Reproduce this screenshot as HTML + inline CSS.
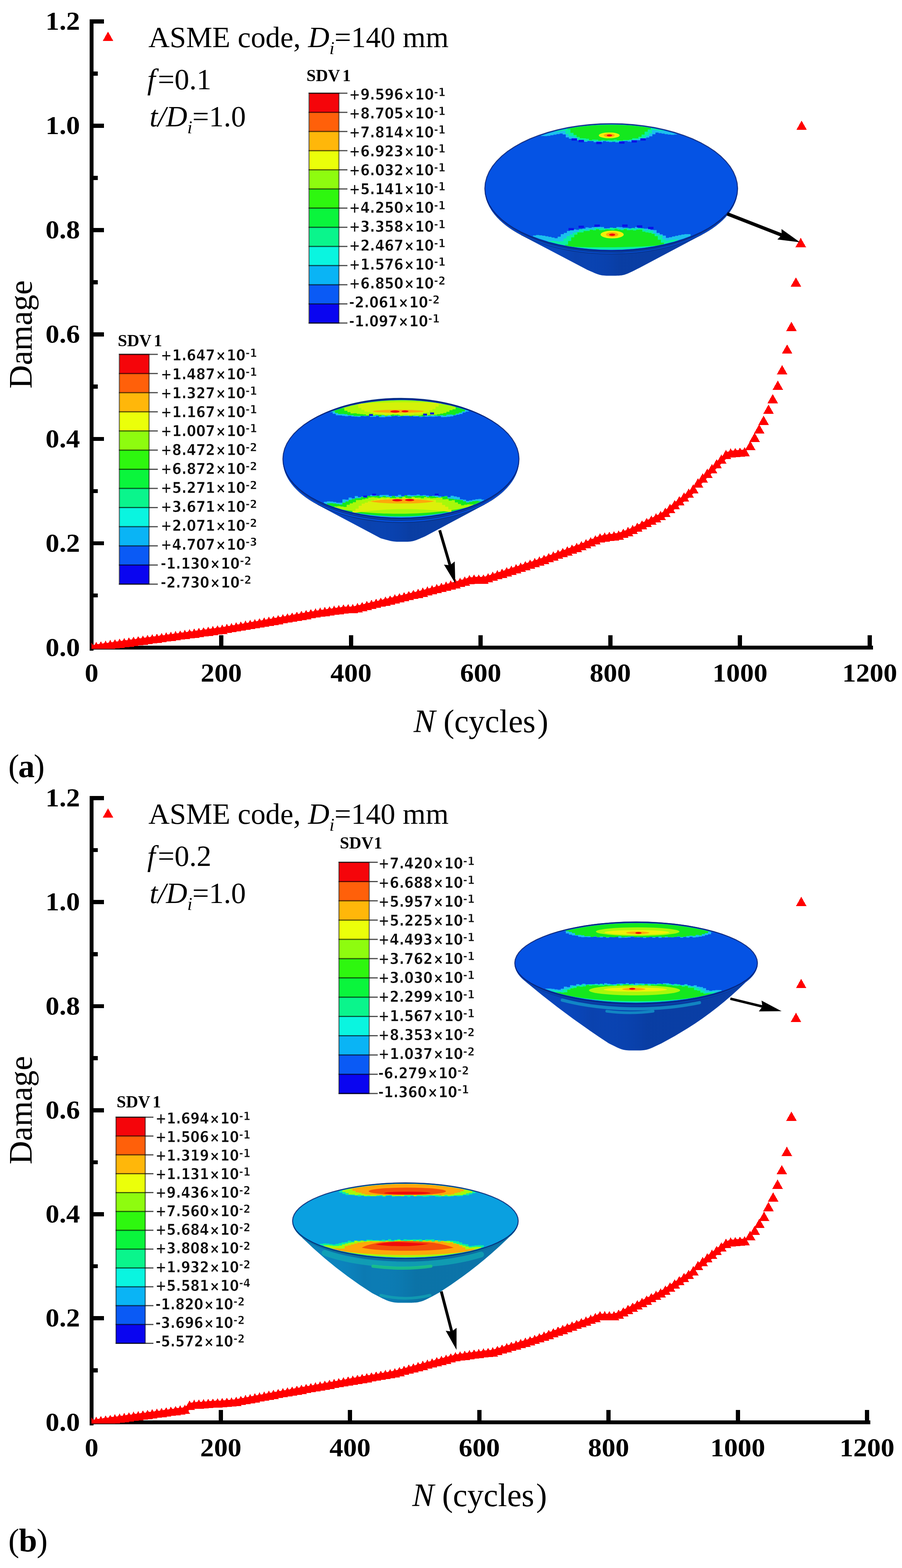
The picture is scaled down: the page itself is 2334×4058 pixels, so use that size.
<!DOCTYPE html>
<html lang="en"><head><meta charset="utf-8"><title>Damage versus N (cycles)</title>
<style>html,body{margin:0;padding:0;background:#fff}body{width:2334px;height:4058px;overflow:hidden}svg{display:block}text{white-space:pre}</style>
</head><body>
<svg width="2334" height="4058" viewBox="0 0 2334 4058" role="img" aria-label="Damage versus number of cycles, panels a and b">
<rect width="2334" height="4058" fill="#fff"/>
<!-- chart a -->
<g fill="#000" shape-rendering="crispEdges"><rect x="231.7" y="50.0" width="10.6" height="1634.3"/><rect x="231.7" y="1670.7" width="2027.0" height="10.6"/><rect x="237.0" y="1535.6" width="16" height="10.6"/><rect x="237.0" y="1400.6" width="32" height="10.6"/><rect x="237.0" y="1265.5" width="16" height="10.6"/><rect x="237.0" y="1130.5" width="32" height="10.6"/><rect x="237.0" y="995.4" width="16" height="10.6"/><rect x="237.0" y="860.4" width="32" height="10.6"/><rect x="237.0" y="725.3" width="16" height="10.6"/><rect x="237.0" y="590.2" width="32" height="10.6"/><rect x="237.0" y="455.2" width="16" height="10.6"/><rect x="237.0" y="320.1" width="32" height="10.6"/><rect x="237.0" y="185.1" width="16" height="10.6"/><rect x="237.0" y="50.0" width="32" height="10.6"/><rect x="567.1" y="1644.0" width="11" height="32"/><rect x="902.7" y="1644.0" width="11" height="32"/><rect x="1238.2" y="1644.0" width="11" height="32"/><rect x="1573.8" y="1644.0" width="11" height="32"/><rect x="1909.4" y="1644.0" width="11" height="32"/><rect x="2245.0" y="1644.0" width="11" height="32"/></g>
<g font-family='"Liberation Serif", "DejaVu Serif", serif' font-weight="bold" font-size="66.7px" fill="#000"><text x="207" y="1697.7" text-anchor="end" textLength="89.2" lengthAdjust="spacingAndGlyphs">0.0</text><text x="207" y="1427.6" text-anchor="end" textLength="89.2" lengthAdjust="spacingAndGlyphs">0.2</text><text x="207" y="1157.5" text-anchor="end" textLength="89.2" lengthAdjust="spacingAndGlyphs">0.4</text><text x="207" y="887.4" text-anchor="end" textLength="89.2" lengthAdjust="spacingAndGlyphs">0.6</text><text x="207" y="617.2" text-anchor="end" textLength="89.2" lengthAdjust="spacingAndGlyphs">0.8</text><text x="207" y="347.1" text-anchor="end" textLength="89.2" lengthAdjust="spacingAndGlyphs">1.0</text><text x="207" y="77.0" text-anchor="end" textLength="89.2" lengthAdjust="spacingAndGlyphs">1.2</text><text x="237.0" y="1764.0" text-anchor="middle" textLength="35.5" lengthAdjust="spacingAndGlyphs">0</text><text x="572.6" y="1764.0" text-anchor="middle" textLength="106.6" lengthAdjust="spacingAndGlyphs">200</text><text x="908.2" y="1764.0" text-anchor="middle" textLength="106.6" lengthAdjust="spacingAndGlyphs">400</text><text x="1243.8" y="1764.0" text-anchor="middle" textLength="106.6" lengthAdjust="spacingAndGlyphs">600</text><text x="1579.3" y="1764.0" text-anchor="middle" textLength="106.6" lengthAdjust="spacingAndGlyphs">800</text><text x="1914.9" y="1764.0" text-anchor="middle" textLength="142.1" lengthAdjust="spacingAndGlyphs">1000</text><text x="2250.5" y="1764.0" text-anchor="middle" textLength="142.1" lengthAdjust="spacingAndGlyphs">1200</text></g>
<text transform="translate(82.4 865.6) rotate(-90)" text-anchor="middle" font-family='"Liberation Serif", "DejaVu Serif", serif' font-size="84.2px">Damage</text>
<text x="1244.5" y="1895" text-anchor="middle" font-family='"Liberation Serif", "DejaVu Serif", serif' font-size="84.2px"><tspan font-style="italic">N</tspan> (cycles<tspan dx="5">)</tspan></text>
<g font-family='"Liberation Serif", "DejaVu Serif", serif' font-size="76.3px" fill="#000">
<text x="384" y="122">ASME code, <tspan font-style="italic">D</tspan><tspan font-style="italic" font-size="47.3px" dy="18.3">i</tspan><tspan dy="-18.3">=140 mm</tspan></text>
<text x="381" y="231" font-style="italic">f</text><text x="408.5" y="231">=0.1</text>
<text x="387" y="327"><tspan font-style="italic">t/D</tspan><tspan font-style="italic" font-size="47.3px" dy="18.3">i</tspan><tspan dy="-18.3">=1.0</tspan></text>
</g>
<path d="M265.9 105.9L279.5 81.9L293.1 105.9Z" fill="#f00" shape-rendering="crispEdges"/>
<!-- chart b -->
<g fill="#000" shape-rendering="crispEdges"><rect x="231.7" y="2060.1" width="10.6" height="1629.2"/><rect x="231.7" y="3675.7" width="2019.8" height="10.6"/><rect x="237.0" y="3541.1" width="16" height="10.6"/><rect x="237.0" y="3406.4" width="32" height="10.6"/><rect x="237.0" y="3271.8" width="16" height="10.6"/><rect x="237.0" y="3137.2" width="32" height="10.6"/><rect x="237.0" y="3002.5" width="16" height="10.6"/><rect x="237.0" y="2867.9" width="32" height="10.6"/><rect x="237.0" y="2733.3" width="16" height="10.6"/><rect x="237.0" y="2598.6" width="32" height="10.6"/><rect x="237.0" y="2464.0" width="16" height="10.6"/><rect x="237.0" y="2329.4" width="32" height="10.6"/><rect x="237.0" y="2194.7" width="16" height="10.6"/><rect x="237.0" y="2060.1" width="32" height="10.6"/><rect x="565.9" y="3649.0" width="11" height="32"/><rect x="900.3" y="3649.0" width="11" height="32"/><rect x="1234.8" y="3649.0" width="11" height="32"/><rect x="1569.2" y="3649.0" width="11" height="32"/><rect x="1903.6" y="3649.0" width="11" height="32"/><rect x="2238.0" y="3649.0" width="11" height="32"/></g>
<g font-family='"Liberation Serif", "DejaVu Serif", serif' font-weight="bold" font-size="66.7px" fill="#000"><text x="207" y="3702.7" text-anchor="end" textLength="89.2" lengthAdjust="spacingAndGlyphs">0.0</text><text x="207" y="3433.4" text-anchor="end" textLength="89.2" lengthAdjust="spacingAndGlyphs">0.2</text><text x="207" y="3164.2" text-anchor="end" textLength="89.2" lengthAdjust="spacingAndGlyphs">0.4</text><text x="207" y="2894.9" text-anchor="end" textLength="89.2" lengthAdjust="spacingAndGlyphs">0.6</text><text x="207" y="2625.6" text-anchor="end" textLength="89.2" lengthAdjust="spacingAndGlyphs">0.8</text><text x="207" y="2356.4" text-anchor="end" textLength="89.2" lengthAdjust="spacingAndGlyphs">1.0</text><text x="207" y="2087.1" text-anchor="end" textLength="89.2" lengthAdjust="spacingAndGlyphs">1.2</text><text x="237.0" y="3769.0" text-anchor="middle" textLength="35.5" lengthAdjust="spacingAndGlyphs">0</text><text x="571.4" y="3769.0" text-anchor="middle" textLength="106.6" lengthAdjust="spacingAndGlyphs">200</text><text x="905.8" y="3769.0" text-anchor="middle" textLength="106.6" lengthAdjust="spacingAndGlyphs">400</text><text x="1240.2" y="3769.0" text-anchor="middle" textLength="106.6" lengthAdjust="spacingAndGlyphs">600</text><text x="1574.7" y="3769.0" text-anchor="middle" textLength="106.6" lengthAdjust="spacingAndGlyphs">800</text><text x="1909.1" y="3769.0" text-anchor="middle" textLength="142.1" lengthAdjust="spacingAndGlyphs">1000</text><text x="2243.5" y="3769.0" text-anchor="middle" textLength="142.1" lengthAdjust="spacingAndGlyphs">1200</text></g>
<text transform="translate(82.4 2873.2) rotate(-90)" text-anchor="middle" font-family='"Liberation Serif", "DejaVu Serif", serif' font-size="84.2px">Damage</text>
<text x="1241" y="3898" text-anchor="middle" font-family='"Liberation Serif", "DejaVu Serif", serif' font-size="84.2px"><tspan font-style="italic">N</tspan> (cycles<tspan dx="5">)</tspan></text>
<g font-family='"Liberation Serif", "DejaVu Serif", serif' font-size="76.3px" fill="#000">
<text x="384" y="2132">ASME code, <tspan font-style="italic">D</tspan><tspan font-style="italic" font-size="47.3px" dy="18.3">i</tspan><tspan dy="-18.3">=140 mm</tspan></text>
<text x="381" y="2241" font-style="italic">f</text><text x="408.5" y="2241">=0.2</text>
<text x="387" y="2337"><tspan font-style="italic">t/D</tspan><tspan font-style="italic" font-size="47.3px" dy="18.3">i</tspan><tspan dy="-18.3">=1.0</tspan></text>
</g>
<path d="M265.9 2116.0L279.5 2092.0L293.1 2116.0Z" fill="#f00" shape-rendering="crispEdges"/>
<text x="793" y="210" font-family='"Liberation Serif", "DejaVu Serif", serif' font-weight="bold" font-size="43.5px">SDV<tspan dx="6">1</tspan></text>
<g shape-rendering="crispEdges"><rect x="799.5" y="241.2" width="77.5" height="50.1" fill="#f5050a"/><rect x="799.5" y="290.8" width="77.5" height="50.1" fill="#ff600a"/><rect x="799.5" y="340.3" width="77.5" height="50.1" fill="#ffb70a"/><rect x="799.5" y="389.9" width="77.5" height="50.1" fill="#ebff0a"/><rect x="799.5" y="439.5" width="77.5" height="50.1" fill="#8efc0f"/><rect x="799.5" y="489.0" width="77.5" height="50.1" fill="#2ef70f"/><rect x="799.5" y="538.6" width="77.5" height="50.1" fill="#0af53c"/><rect x="799.5" y="588.2" width="77.5" height="50.1" fill="#0af58c"/><rect x="799.5" y="637.8" width="77.5" height="50.1" fill="#0af5e0"/><rect x="799.5" y="687.3" width="77.5" height="50.1" fill="#0ab4f5"/><rect x="799.5" y="736.9" width="77.5" height="50.1" fill="#0a5af5"/><rect x="799.5" y="786.5" width="77.5" height="50.1" fill="#0a05f0"/></g>
<g><path d="M798.5 241.2H877.0" stroke="#000" stroke-opacity="0.62" stroke-width="3"/><path d="M877.0 241.2H899" stroke="#4a4a4a" stroke-width="3"/><path d="M798.5 290.8H877.0" stroke="#000" stroke-opacity="0.62" stroke-width="3"/><path d="M877.0 290.8H899" stroke="#4a4a4a" stroke-width="3"/><path d="M798.5 340.3H877.0" stroke="#000" stroke-opacity="0.62" stroke-width="3"/><path d="M877.0 340.3H899" stroke="#4a4a4a" stroke-width="3"/><path d="M798.5 389.9H877.0" stroke="#000" stroke-opacity="0.62" stroke-width="3"/><path d="M877.0 389.9H899" stroke="#4a4a4a" stroke-width="3"/><path d="M798.5 439.5H877.0" stroke="#000" stroke-opacity="0.62" stroke-width="3"/><path d="M877.0 439.5H899" stroke="#4a4a4a" stroke-width="3"/><path d="M798.5 489.0H877.0" stroke="#000" stroke-opacity="0.62" stroke-width="3"/><path d="M877.0 489.0H899" stroke="#4a4a4a" stroke-width="3"/><path d="M798.5 538.6H877.0" stroke="#000" stroke-opacity="0.62" stroke-width="3"/><path d="M877.0 538.6H899" stroke="#4a4a4a" stroke-width="3"/><path d="M798.5 588.2H877.0" stroke="#000" stroke-opacity="0.62" stroke-width="3"/><path d="M877.0 588.2H899" stroke="#4a4a4a" stroke-width="3"/><path d="M798.5 637.8H877.0" stroke="#000" stroke-opacity="0.62" stroke-width="3"/><path d="M877.0 637.8H899" stroke="#4a4a4a" stroke-width="3"/><path d="M798.5 687.3H877.0" stroke="#000" stroke-opacity="0.62" stroke-width="3"/><path d="M877.0 687.3H899" stroke="#4a4a4a" stroke-width="3"/><path d="M798.5 736.9H877.0" stroke="#000" stroke-opacity="0.62" stroke-width="3"/><path d="M877.0 736.9H899" stroke="#4a4a4a" stroke-width="3"/><path d="M798.5 786.5H877.0" stroke="#000" stroke-opacity="0.62" stroke-width="3"/><path d="M877.0 786.5H899" stroke="#4a4a4a" stroke-width="3"/><path d="M798.5 836.0H877.0" stroke="#000" stroke-opacity="0.62" stroke-width="3"/><path d="M877.0 836.0H899" stroke="#4a4a4a" stroke-width="3"/><rect x="799.5" y="241.2" width="77.5" height="594.8" fill="none" stroke="#000" stroke-opacity="0.5" stroke-width="3"/></g>
<g font-family='"DejaVu Sans Condensed", "DejaVu Sans", "Liberation Sans", sans-serif' font-weight="bold" font-size="39.2px" fill="#0a0a0a" stroke="#fff" stroke-width="0.9"><text x="903" y="258.2">+9.596<tspan font-weight="normal" font-size="32.9px" dx="2.4" dy="-1" stroke="#0a0a0a" stroke-width="1">×</tspan><tspan dx="2.4" dy="1">10</tspan><tspan font-size="30.2px" dx="0" dy="-9.6">-1</tspan></text><text x="903" y="307.1">+8.705<tspan font-weight="normal" font-size="32.9px" dx="2.4" dy="-1" stroke="#0a0a0a" stroke-width="1">×</tspan><tspan dx="2.4" dy="1">10</tspan><tspan font-size="30.2px" dx="0" dy="-9.6">-1</tspan></text><text x="903" y="355.9">+7.814<tspan font-weight="normal" font-size="32.9px" dx="2.4" dy="-1" stroke="#0a0a0a" stroke-width="1">×</tspan><tspan dx="2.4" dy="1">10</tspan><tspan font-size="30.2px" dx="0" dy="-9.6">-1</tspan></text><text x="903" y="404.8">+6.923<tspan font-weight="normal" font-size="32.9px" dx="2.4" dy="-1" stroke="#0a0a0a" stroke-width="1">×</tspan><tspan dx="2.4" dy="1">10</tspan><tspan font-size="30.2px" dx="0" dy="-9.6">-1</tspan></text><text x="903" y="453.6">+6.032<tspan font-weight="normal" font-size="32.9px" dx="2.4" dy="-1" stroke="#0a0a0a" stroke-width="1">×</tspan><tspan dx="2.4" dy="1">10</tspan><tspan font-size="30.2px" dx="0" dy="-9.6">-1</tspan></text><text x="903" y="502.5">+5.141<tspan font-weight="normal" font-size="32.9px" dx="2.4" dy="-1" stroke="#0a0a0a" stroke-width="1">×</tspan><tspan dx="2.4" dy="1">10</tspan><tspan font-size="30.2px" dx="0" dy="-9.6">-1</tspan></text><text x="903" y="551.4">+4.250<tspan font-weight="normal" font-size="32.9px" dx="2.4" dy="-1" stroke="#0a0a0a" stroke-width="1">×</tspan><tspan dx="2.4" dy="1">10</tspan><tspan font-size="30.2px" dx="0" dy="-9.6">-1</tspan></text><text x="903" y="600.2">+3.358<tspan font-weight="normal" font-size="32.9px" dx="2.4" dy="-1" stroke="#0a0a0a" stroke-width="1">×</tspan><tspan dx="2.4" dy="1">10</tspan><tspan font-size="30.2px" dx="0" dy="-9.6">-1</tspan></text><text x="903" y="649.1">+2.467<tspan font-weight="normal" font-size="32.9px" dx="2.4" dy="-1" stroke="#0a0a0a" stroke-width="1">×</tspan><tspan dx="2.4" dy="1">10</tspan><tspan font-size="30.2px" dx="0" dy="-9.6">-1</tspan></text><text x="903" y="697.9">+1.576<tspan font-weight="normal" font-size="32.9px" dx="2.4" dy="-1" stroke="#0a0a0a" stroke-width="1">×</tspan><tspan dx="2.4" dy="1">10</tspan><tspan font-size="30.2px" dx="0" dy="-9.6">-1</tspan></text><text x="903" y="746.8">+6.850<tspan font-weight="normal" font-size="32.9px" dx="2.4" dy="-1" stroke="#0a0a0a" stroke-width="1">×</tspan><tspan dx="2.4" dy="1">10</tspan><tspan font-size="30.2px" dx="0" dy="-9.6">-2</tspan></text><text x="903" y="795.7">-2.061<tspan font-weight="normal" font-size="32.9px" dx="2.4" dy="-1" stroke="#0a0a0a" stroke-width="1">×</tspan><tspan dx="2.4" dy="1">10</tspan><tspan font-size="30.2px" dx="0" dy="-9.6">-2</tspan></text><text x="903" y="844.5">-1.097<tspan font-weight="normal" font-size="32.9px" dx="2.4" dy="-1" stroke="#0a0a0a" stroke-width="1">×</tspan><tspan dx="2.4" dy="1">10</tspan><tspan font-size="30.2px" dx="0" dy="-9.6">-1</tspan></text></g>
<text x="304.8" y="895.9" font-family='"Liberation Serif", "DejaVu Serif", serif' font-weight="bold" font-size="43.5px">SDV<tspan dx="6">1</tspan></text>
<g shape-rendering="crispEdges"><rect x="308.7" y="917.1" width="77" height="50.1" fill="#f5050a"/><rect x="308.7" y="966.7" width="77" height="50.1" fill="#ff600a"/><rect x="308.7" y="1016.2" width="77" height="50.1" fill="#ffb70a"/><rect x="308.7" y="1065.8" width="77" height="50.1" fill="#ebff0a"/><rect x="308.7" y="1115.3" width="77" height="50.1" fill="#8efc0f"/><rect x="308.7" y="1164.9" width="77" height="50.1" fill="#2ef70f"/><rect x="308.7" y="1214.5" width="77" height="50.1" fill="#0af53c"/><rect x="308.7" y="1264.0" width="77" height="50.1" fill="#0af58c"/><rect x="308.7" y="1313.6" width="77" height="50.1" fill="#0af5e0"/><rect x="308.7" y="1363.1" width="77" height="50.1" fill="#0ab4f5"/><rect x="308.7" y="1412.7" width="77" height="50.1" fill="#0a5af5"/><rect x="308.7" y="1462.3" width="77" height="50.1" fill="#0a05f0"/></g>
<g><path d="M307.7 917.1H385.7" stroke="#000" stroke-opacity="0.62" stroke-width="3"/><path d="M385.7 917.1H408.4" stroke="#4a4a4a" stroke-width="3"/><path d="M307.7 966.7H385.7" stroke="#000" stroke-opacity="0.62" stroke-width="3"/><path d="M385.7 966.7H408.4" stroke="#4a4a4a" stroke-width="3"/><path d="M307.7 1016.2H385.7" stroke="#000" stroke-opacity="0.62" stroke-width="3"/><path d="M385.7 1016.2H408.4" stroke="#4a4a4a" stroke-width="3"/><path d="M307.7 1065.8H385.7" stroke="#000" stroke-opacity="0.62" stroke-width="3"/><path d="M385.7 1065.8H408.4" stroke="#4a4a4a" stroke-width="3"/><path d="M307.7 1115.3H385.7" stroke="#000" stroke-opacity="0.62" stroke-width="3"/><path d="M385.7 1115.3H408.4" stroke="#4a4a4a" stroke-width="3"/><path d="M307.7 1164.9H385.7" stroke="#000" stroke-opacity="0.62" stroke-width="3"/><path d="M385.7 1164.9H408.4" stroke="#4a4a4a" stroke-width="3"/><path d="M307.7 1214.5H385.7" stroke="#000" stroke-opacity="0.62" stroke-width="3"/><path d="M385.7 1214.5H408.4" stroke="#4a4a4a" stroke-width="3"/><path d="M307.7 1264.0H385.7" stroke="#000" stroke-opacity="0.62" stroke-width="3"/><path d="M385.7 1264.0H408.4" stroke="#4a4a4a" stroke-width="3"/><path d="M307.7 1313.6H385.7" stroke="#000" stroke-opacity="0.62" stroke-width="3"/><path d="M385.7 1313.6H408.4" stroke="#4a4a4a" stroke-width="3"/><path d="M307.7 1363.1H385.7" stroke="#000" stroke-opacity="0.62" stroke-width="3"/><path d="M385.7 1363.1H408.4" stroke="#4a4a4a" stroke-width="3"/><path d="M307.7 1412.7H385.7" stroke="#000" stroke-opacity="0.62" stroke-width="3"/><path d="M385.7 1412.7H408.4" stroke="#4a4a4a" stroke-width="3"/><path d="M307.7 1462.3H385.7" stroke="#000" stroke-opacity="0.62" stroke-width="3"/><path d="M385.7 1462.3H408.4" stroke="#4a4a4a" stroke-width="3"/><path d="M307.7 1511.8H385.7" stroke="#000" stroke-opacity="0.62" stroke-width="3"/><path d="M385.7 1511.8H408.4" stroke="#4a4a4a" stroke-width="3"/><rect x="308.7" y="917.1" width="77" height="594.7" fill="none" stroke="#000" stroke-opacity="0.5" stroke-width="3"/></g>
<g font-family='"DejaVu Sans Condensed", "DejaVu Sans", "Liberation Sans", sans-serif' font-weight="bold" font-size="39.2px" fill="#0a0a0a" stroke="#fff" stroke-width="0.9"><text x="415.6" y="933.1">+1.647<tspan font-weight="normal" font-size="32.9px" dx="2.4" dy="-1" stroke="#0a0a0a" stroke-width="1">×</tspan><tspan dx="2.4" dy="1">10</tspan><tspan font-size="30.2px" dx="0" dy="-9.6">-1</tspan></text><text x="415.6" y="982.1">+1.487<tspan font-weight="normal" font-size="32.9px" dx="2.4" dy="-1" stroke="#0a0a0a" stroke-width="1">×</tspan><tspan dx="2.4" dy="1">10</tspan><tspan font-size="30.2px" dx="0" dy="-9.6">-1</tspan></text><text x="415.6" y="1031.1">+1.327<tspan font-weight="normal" font-size="32.9px" dx="2.4" dy="-1" stroke="#0a0a0a" stroke-width="1">×</tspan><tspan dx="2.4" dy="1">10</tspan><tspan font-size="30.2px" dx="0" dy="-9.6">-1</tspan></text><text x="415.6" y="1080.0">+1.167<tspan font-weight="normal" font-size="32.9px" dx="2.4" dy="-1" stroke="#0a0a0a" stroke-width="1">×</tspan><tspan dx="2.4" dy="1">10</tspan><tspan font-size="30.2px" dx="0" dy="-9.6">-1</tspan></text><text x="415.6" y="1129.0">+1.007<tspan font-weight="normal" font-size="32.9px" dx="2.4" dy="-1" stroke="#0a0a0a" stroke-width="1">×</tspan><tspan dx="2.4" dy="1">10</tspan><tspan font-size="30.2px" dx="0" dy="-9.6">-1</tspan></text><text x="415.6" y="1178.0">+8.472<tspan font-weight="normal" font-size="32.9px" dx="2.4" dy="-1" stroke="#0a0a0a" stroke-width="1">×</tspan><tspan dx="2.4" dy="1">10</tspan><tspan font-size="30.2px" dx="0" dy="-9.6">-2</tspan></text><text x="415.6" y="1227.0">+6.872<tspan font-weight="normal" font-size="32.9px" dx="2.4" dy="-1" stroke="#0a0a0a" stroke-width="1">×</tspan><tspan dx="2.4" dy="1">10</tspan><tspan font-size="30.2px" dx="0" dy="-9.6">-2</tspan></text><text x="415.6" y="1276.0">+5.271<tspan font-weight="normal" font-size="32.9px" dx="2.4" dy="-1" stroke="#0a0a0a" stroke-width="1">×</tspan><tspan dx="2.4" dy="1">10</tspan><tspan font-size="30.2px" dx="0" dy="-9.6">-2</tspan></text><text x="415.6" y="1324.9">+3.671<tspan font-weight="normal" font-size="32.9px" dx="2.4" dy="-1" stroke="#0a0a0a" stroke-width="1">×</tspan><tspan dx="2.4" dy="1">10</tspan><tspan font-size="30.2px" dx="0" dy="-9.6">-2</tspan></text><text x="415.6" y="1373.9">+2.071<tspan font-weight="normal" font-size="32.9px" dx="2.4" dy="-1" stroke="#0a0a0a" stroke-width="1">×</tspan><tspan dx="2.4" dy="1">10</tspan><tspan font-size="30.2px" dx="0" dy="-9.6">-2</tspan></text><text x="415.6" y="1422.9">+4.707<tspan font-weight="normal" font-size="32.9px" dx="2.4" dy="-1" stroke="#0a0a0a" stroke-width="1">×</tspan><tspan dx="2.4" dy="1">10</tspan><tspan font-size="30.2px" dx="0" dy="-9.6">-3</tspan></text><text x="415.6" y="1471.9">-1.130<tspan font-weight="normal" font-size="32.9px" dx="2.4" dy="-1" stroke="#0a0a0a" stroke-width="1">×</tspan><tspan dx="2.4" dy="1">10</tspan><tspan font-size="30.2px" dx="0" dy="-9.6">-2</tspan></text><text x="415.6" y="1520.9">-2.730<tspan font-weight="normal" font-size="32.9px" dx="2.4" dy="-1" stroke="#0a0a0a" stroke-width="1">×</tspan><tspan dx="2.4" dy="1">10</tspan><tspan font-size="30.2px" dx="0" dy="-9.6">-2</tspan></text></g>
<text x="879.3" y="2195.9" font-family='"Liberation Serif", "DejaVu Serif", serif' font-weight="bold" font-size="43.5px">SDV<tspan dx="1">1</tspan></text>
<g shape-rendering="crispEdges"><rect x="877" y="2231.6" width="78.4" height="50.4" fill="#f5050a"/><rect x="877" y="2281.5" width="78.4" height="50.4" fill="#ff600a"/><rect x="877" y="2331.3" width="78.4" height="50.4" fill="#ffb70a"/><rect x="877" y="2381.2" width="78.4" height="50.4" fill="#ebff0a"/><rect x="877" y="2431.1" width="78.4" height="50.4" fill="#8efc0f"/><rect x="877" y="2480.9" width="78.4" height="50.4" fill="#2ef70f"/><rect x="877" y="2530.8" width="78.4" height="50.4" fill="#0af53c"/><rect x="877" y="2580.7" width="78.4" height="50.4" fill="#0af58c"/><rect x="877" y="2630.6" width="78.4" height="50.4" fill="#0af5e0"/><rect x="877" y="2680.4" width="78.4" height="50.4" fill="#0ab4f5"/><rect x="877" y="2730.3" width="78.4" height="50.4" fill="#0a5af5"/><rect x="877" y="2780.2" width="78.4" height="50.4" fill="#0a05f0"/></g>
<g><path d="M876 2231.6H955.4" stroke="#000" stroke-opacity="0.62" stroke-width="3"/><path d="M955.4 2231.6H977.5" stroke="#4a4a4a" stroke-width="3"/><path d="M876 2281.5H955.4" stroke="#000" stroke-opacity="0.62" stroke-width="3"/><path d="M955.4 2281.5H977.5" stroke="#4a4a4a" stroke-width="3"/><path d="M876 2331.3H955.4" stroke="#000" stroke-opacity="0.62" stroke-width="3"/><path d="M955.4 2331.3H977.5" stroke="#4a4a4a" stroke-width="3"/><path d="M876 2381.2H955.4" stroke="#000" stroke-opacity="0.62" stroke-width="3"/><path d="M955.4 2381.2H977.5" stroke="#4a4a4a" stroke-width="3"/><path d="M876 2431.1H955.4" stroke="#000" stroke-opacity="0.62" stroke-width="3"/><path d="M955.4 2431.1H977.5" stroke="#4a4a4a" stroke-width="3"/><path d="M876 2480.9H955.4" stroke="#000" stroke-opacity="0.62" stroke-width="3"/><path d="M955.4 2480.9H977.5" stroke="#4a4a4a" stroke-width="3"/><path d="M876 2530.8H955.4" stroke="#000" stroke-opacity="0.62" stroke-width="3"/><path d="M955.4 2530.8H977.5" stroke="#4a4a4a" stroke-width="3"/><path d="M876 2580.7H955.4" stroke="#000" stroke-opacity="0.62" stroke-width="3"/><path d="M955.4 2580.7H977.5" stroke="#4a4a4a" stroke-width="3"/><path d="M876 2630.6H955.4" stroke="#000" stroke-opacity="0.62" stroke-width="3"/><path d="M955.4 2630.6H977.5" stroke="#4a4a4a" stroke-width="3"/><path d="M876 2680.4H955.4" stroke="#000" stroke-opacity="0.62" stroke-width="3"/><path d="M955.4 2680.4H977.5" stroke="#4a4a4a" stroke-width="3"/><path d="M876 2730.3H955.4" stroke="#000" stroke-opacity="0.62" stroke-width="3"/><path d="M955.4 2730.3H977.5" stroke="#4a4a4a" stroke-width="3"/><path d="M876 2780.2H955.4" stroke="#000" stroke-opacity="0.62" stroke-width="3"/><path d="M955.4 2780.2H977.5" stroke="#4a4a4a" stroke-width="3"/><path d="M876 2830.0H955.4" stroke="#000" stroke-opacity="0.62" stroke-width="3"/><path d="M955.4 2830.0H977.5" stroke="#4a4a4a" stroke-width="3"/><rect x="877" y="2231.6" width="78.4" height="598.4" fill="none" stroke="#000" stroke-opacity="0.5" stroke-width="3"/></g>
<g font-family='"DejaVu Sans Condensed", "DejaVu Sans", "Liberation Sans", sans-serif' font-weight="bold" font-size="39.2px" fill="#0a0a0a" stroke="#fff" stroke-width="0.9"><text x="978.6" y="2248.2">+7.420<tspan font-weight="normal" font-size="32.9px" dx="2.4" dy="-1" stroke="#0a0a0a" stroke-width="1">×</tspan><tspan dx="2.4" dy="1">10</tspan><tspan font-size="30.2px" dx="0" dy="-9.6">-1</tspan></text><text x="978.6" y="2297.5">+6.688<tspan font-weight="normal" font-size="32.9px" dx="2.4" dy="-1" stroke="#0a0a0a" stroke-width="1">×</tspan><tspan dx="2.4" dy="1">10</tspan><tspan font-size="30.2px" dx="0" dy="-9.6">-1</tspan></text><text x="978.6" y="2346.8">+5.957<tspan font-weight="normal" font-size="32.9px" dx="2.4" dy="-1" stroke="#0a0a0a" stroke-width="1">×</tspan><tspan dx="2.4" dy="1">10</tspan><tspan font-size="30.2px" dx="0" dy="-9.6">-1</tspan></text><text x="978.6" y="2396.1">+5.225<tspan font-weight="normal" font-size="32.9px" dx="2.4" dy="-1" stroke="#0a0a0a" stroke-width="1">×</tspan><tspan dx="2.4" dy="1">10</tspan><tspan font-size="30.2px" dx="0" dy="-9.6">-1</tspan></text><text x="978.6" y="2445.4">+4.493<tspan font-weight="normal" font-size="32.9px" dx="2.4" dy="-1" stroke="#0a0a0a" stroke-width="1">×</tspan><tspan dx="2.4" dy="1">10</tspan><tspan font-size="30.2px" dx="0" dy="-9.6">-1</tspan></text><text x="978.6" y="2494.7">+3.762<tspan font-weight="normal" font-size="32.9px" dx="2.4" dy="-1" stroke="#0a0a0a" stroke-width="1">×</tspan><tspan dx="2.4" dy="1">10</tspan><tspan font-size="30.2px" dx="0" dy="-9.6">-1</tspan></text><text x="978.6" y="2544.0">+3.030<tspan font-weight="normal" font-size="32.9px" dx="2.4" dy="-1" stroke="#0a0a0a" stroke-width="1">×</tspan><tspan dx="2.4" dy="1">10</tspan><tspan font-size="30.2px" dx="0" dy="-9.6">-1</tspan></text><text x="978.6" y="2593.3">+2.299<tspan font-weight="normal" font-size="32.9px" dx="2.4" dy="-1" stroke="#0a0a0a" stroke-width="1">×</tspan><tspan dx="2.4" dy="1">10</tspan><tspan font-size="30.2px" dx="0" dy="-9.6">-1</tspan></text><text x="978.6" y="2642.6">+1.567<tspan font-weight="normal" font-size="32.9px" dx="2.4" dy="-1" stroke="#0a0a0a" stroke-width="1">×</tspan><tspan dx="2.4" dy="1">10</tspan><tspan font-size="30.2px" dx="0" dy="-9.6">-1</tspan></text><text x="978.6" y="2691.9">+8.353<tspan font-weight="normal" font-size="32.9px" dx="2.4" dy="-1" stroke="#0a0a0a" stroke-width="1">×</tspan><tspan dx="2.4" dy="1">10</tspan><tspan font-size="30.2px" dx="0" dy="-9.6">-2</tspan></text><text x="978.6" y="2741.2">+1.037<tspan font-weight="normal" font-size="32.9px" dx="2.4" dy="-1" stroke="#0a0a0a" stroke-width="1">×</tspan><tspan dx="2.4" dy="1">10</tspan><tspan font-size="30.2px" dx="0" dy="-9.6">-2</tspan></text><text x="978.6" y="2790.5">-6.279<tspan font-weight="normal" font-size="32.9px" dx="2.4" dy="-1" stroke="#0a0a0a" stroke-width="1">×</tspan><tspan dx="2.4" dy="1">10</tspan><tspan font-size="30.2px" dx="0" dy="-9.6">-2</tspan></text><text x="978.6" y="2839.8">-1.360<tspan font-weight="normal" font-size="32.9px" dx="2.4" dy="-1" stroke="#0a0a0a" stroke-width="1">×</tspan><tspan dx="2.4" dy="1">10</tspan><tspan font-size="30.2px" dx="0" dy="-9.6">-1</tspan></text></g>
<text x="301.7" y="2865.7" font-family='"Liberation Serif", "DejaVu Serif", serif' font-weight="bold" font-size="43.5px">SDV<tspan dx="6">1</tspan></text>
<g shape-rendering="crispEdges"><rect x="300.2" y="2891.3" width="75.6" height="49.3" fill="#f5050a"/><rect x="300.2" y="2940.1" width="75.6" height="49.3" fill="#ff600a"/><rect x="300.2" y="2988.8" width="75.6" height="49.3" fill="#ffb70a"/><rect x="300.2" y="3037.6" width="75.6" height="49.3" fill="#ebff0a"/><rect x="300.2" y="3086.4" width="75.6" height="49.3" fill="#8efc0f"/><rect x="300.2" y="3135.2" width="75.6" height="49.3" fill="#2ef70f"/><rect x="300.2" y="3183.9" width="75.6" height="49.3" fill="#0af53c"/><rect x="300.2" y="3232.7" width="75.6" height="49.3" fill="#0af58c"/><rect x="300.2" y="3281.5" width="75.6" height="49.3" fill="#0af5e0"/><rect x="300.2" y="3330.2" width="75.6" height="49.3" fill="#0ab4f5"/><rect x="300.2" y="3379.0" width="75.6" height="49.3" fill="#0a5af5"/><rect x="300.2" y="3427.8" width="75.6" height="49.3" fill="#0a05f0"/></g>
<g><path d="M299.2 2891.3H375.8" stroke="#000" stroke-opacity="0.62" stroke-width="3"/><path d="M375.8 2891.3H397" stroke="#4a4a4a" stroke-width="3"/><path d="M299.2 2940.1H375.8" stroke="#000" stroke-opacity="0.62" stroke-width="3"/><path d="M375.8 2940.1H397" stroke="#4a4a4a" stroke-width="3"/><path d="M299.2 2988.8H375.8" stroke="#000" stroke-opacity="0.62" stroke-width="3"/><path d="M375.8 2988.8H397" stroke="#4a4a4a" stroke-width="3"/><path d="M299.2 3037.6H375.8" stroke="#000" stroke-opacity="0.62" stroke-width="3"/><path d="M375.8 3037.6H397" stroke="#4a4a4a" stroke-width="3"/><path d="M299.2 3086.4H375.8" stroke="#000" stroke-opacity="0.62" stroke-width="3"/><path d="M375.8 3086.4H397" stroke="#4a4a4a" stroke-width="3"/><path d="M299.2 3135.2H375.8" stroke="#000" stroke-opacity="0.62" stroke-width="3"/><path d="M375.8 3135.2H397" stroke="#4a4a4a" stroke-width="3"/><path d="M299.2 3183.9H375.8" stroke="#000" stroke-opacity="0.62" stroke-width="3"/><path d="M375.8 3183.9H397" stroke="#4a4a4a" stroke-width="3"/><path d="M299.2 3232.7H375.8" stroke="#000" stroke-opacity="0.62" stroke-width="3"/><path d="M375.8 3232.7H397" stroke="#4a4a4a" stroke-width="3"/><path d="M299.2 3281.5H375.8" stroke="#000" stroke-opacity="0.62" stroke-width="3"/><path d="M375.8 3281.5H397" stroke="#4a4a4a" stroke-width="3"/><path d="M299.2 3330.2H375.8" stroke="#000" stroke-opacity="0.62" stroke-width="3"/><path d="M375.8 3330.2H397" stroke="#4a4a4a" stroke-width="3"/><path d="M299.2 3379.0H375.8" stroke="#000" stroke-opacity="0.62" stroke-width="3"/><path d="M375.8 3379.0H397" stroke="#4a4a4a" stroke-width="3"/><path d="M299.2 3427.8H375.8" stroke="#000" stroke-opacity="0.62" stroke-width="3"/><path d="M375.8 3427.8H397" stroke="#4a4a4a" stroke-width="3"/><path d="M299.2 3476.5H375.8" stroke="#000" stroke-opacity="0.62" stroke-width="3"/><path d="M375.8 3476.5H397" stroke="#4a4a4a" stroke-width="3"/><rect x="300.2" y="2891.3" width="75.6" height="585.2" fill="none" stroke="#000" stroke-opacity="0.5" stroke-width="3"/></g>
<g font-family='"DejaVu Sans Condensed", "DejaVu Sans", "Liberation Sans", sans-serif' font-weight="bold" font-size="38.6px" fill="#0a0a0a" stroke="#fff" stroke-width="0.9"><text x="402" y="2908.0">+1.694<tspan font-weight="normal" font-size="32.4px" dx="2.4" dy="-1" stroke="#0a0a0a" stroke-width="1">×</tspan><tspan dx="2.4" dy="1">10</tspan><tspan font-size="29.7px" dx="0" dy="-9.5">-1</tspan></text><text x="402" y="2956.1">+1.506<tspan font-weight="normal" font-size="32.4px" dx="2.4" dy="-1" stroke="#0a0a0a" stroke-width="1">×</tspan><tspan dx="2.4" dy="1">10</tspan><tspan font-size="29.7px" dx="0" dy="-9.5">-1</tspan></text><text x="402" y="3004.1">+1.319<tspan font-weight="normal" font-size="32.4px" dx="2.4" dy="-1" stroke="#0a0a0a" stroke-width="1">×</tspan><tspan dx="2.4" dy="1">10</tspan><tspan font-size="29.7px" dx="0" dy="-9.5">-1</tspan></text><text x="402" y="3052.2">+1.131<tspan font-weight="normal" font-size="32.4px" dx="2.4" dy="-1" stroke="#0a0a0a" stroke-width="1">×</tspan><tspan dx="2.4" dy="1">10</tspan><tspan font-size="29.7px" dx="0" dy="-9.5">-1</tspan></text><text x="402" y="3100.2">+9.436<tspan font-weight="normal" font-size="32.4px" dx="2.4" dy="-1" stroke="#0a0a0a" stroke-width="1">×</tspan><tspan dx="2.4" dy="1">10</tspan><tspan font-size="29.7px" dx="0" dy="-9.5">-2</tspan></text><text x="402" y="3148.3">+7.560<tspan font-weight="normal" font-size="32.4px" dx="2.4" dy="-1" stroke="#0a0a0a" stroke-width="1">×</tspan><tspan dx="2.4" dy="1">10</tspan><tspan font-size="29.7px" dx="0" dy="-9.5">-2</tspan></text><text x="402" y="3196.4">+5.684<tspan font-weight="normal" font-size="32.4px" dx="2.4" dy="-1" stroke="#0a0a0a" stroke-width="1">×</tspan><tspan dx="2.4" dy="1">10</tspan><tspan font-size="29.7px" dx="0" dy="-9.5">-2</tspan></text><text x="402" y="3244.4">+3.808<tspan font-weight="normal" font-size="32.4px" dx="2.4" dy="-1" stroke="#0a0a0a" stroke-width="1">×</tspan><tspan dx="2.4" dy="1">10</tspan><tspan font-size="29.7px" dx="0" dy="-9.5">-2</tspan></text><text x="402" y="3292.5">+1.932<tspan font-weight="normal" font-size="32.4px" dx="2.4" dy="-1" stroke="#0a0a0a" stroke-width="1">×</tspan><tspan dx="2.4" dy="1">10</tspan><tspan font-size="29.7px" dx="0" dy="-9.5">-2</tspan></text><text x="402" y="3340.5">+5.581<tspan font-weight="normal" font-size="32.4px" dx="2.4" dy="-1" stroke="#0a0a0a" stroke-width="1">×</tspan><tspan dx="2.4" dy="1">10</tspan><tspan font-size="29.7px" dx="0" dy="-9.5">-4</tspan></text><text x="402" y="3388.6">-1.820<tspan font-weight="normal" font-size="32.4px" dx="2.4" dy="-1" stroke="#0a0a0a" stroke-width="1">×</tspan><tspan dx="2.4" dy="1">10</tspan><tspan font-size="29.7px" dx="0" dy="-9.5">-2</tspan></text><text x="402" y="3436.7">-3.696<tspan font-weight="normal" font-size="32.4px" dx="2.4" dy="-1" stroke="#0a0a0a" stroke-width="1">×</tspan><tspan dx="2.4" dy="1">10</tspan><tspan font-size="29.7px" dx="0" dy="-9.5">-2</tspan></text><text x="402" y="3484.7">-5.572<tspan font-weight="normal" font-size="32.4px" dx="2.4" dy="-1" stroke="#0a0a0a" stroke-width="1">×</tspan><tspan dx="2.4" dy="1">10</tspan><tspan font-size="29.7px" dx="0" dy="-9.5">-2</tspan></text></g>
<defs><linearGradient id="cg0" x1="0" x2="1" y1="0" y2="0"><stop offset="0" stop-color="#0a42ae"/><stop offset="0.3" stop-color="#0553e4" stop-opacity="0.0"/><stop offset="0.55" stop-color="#08358f" stop-opacity="0.35"/><stop offset="1" stop-color="#08358f" stop-opacity="0.25"/></linearGradient><clipPath id="cc0"><path d="M1906.1 488.0L1904.9 501.8L1901.2 515.5L1895.0 529.0L1886.5 542.2L1875.7 555.0L1862.6 567.2L1847.4 578.9L1830.2 589.9L1811.1 600.1L1790.2 609.4L1767.7 617.8L1743.8 625.3L1718.7 631.6L1692.6 636.9L1665.6 641.1L1637.9 644.1L1609.9 645.9L1581.6 646.5L1553.3 645.9L1525.3 644.1L1497.6 641.1L1470.6 636.9L1444.5 631.6L1419.3 625.3L1395.5 617.8L1373.0 609.4L1352.1 600.1L1333.0 589.9L1315.8 578.9L1300.6 567.2L1287.5 555.0L1276.7 542.2L1268.2 529.0L1262.0 515.5L1258.3 501.8L1257.1 488.0L1258.3 473.6L1262.0 459.3L1268.2 445.2L1276.7 431.4L1287.5 418.1L1300.6 405.2L1315.8 393.1L1333.0 381.6L1352.1 371.0L1373.0 361.2L1395.5 352.4L1419.3 344.7L1444.5 338.0L1470.6 332.5L1497.6 328.1L1525.3 325.0L1553.3 323.1L1581.6 322.5L1609.9 323.1L1637.9 325.0L1665.6 328.1L1692.6 332.5L1718.7 338.0L1743.8 344.7L1767.7 352.4L1790.2 361.2L1811.1 371.0L1830.2 381.6L1847.4 393.1L1862.6 405.3L1875.7 418.1L1886.5 431.4L1895.0 445.2L1901.2 459.3L1904.9 473.6Z"/></clipPath><clipPath id="cb0"><path d="M1347.8 608.1Q1433.9 653.3 1520 698.5C1554.1 713.5 1554.1 713.5 1582 713.5C1614.8 713.5 1614.8 713.5 1655 693Q1735.6 650.3 1816.2 607.6L1581.6 488Z"/></clipPath></defs>
<path d="M1347.8 608.1Q1433.9 653.3 1520 698.5C1554.1 713.5 1554.1 713.5 1582 713.5C1614.8 713.5 1614.8 713.5 1655 693Q1735.6 650.3 1816.2 607.6L1581.6 488Z" fill="#0a42ae"/>
<path d="M1347.8 608.1Q1433.9 653.3 1520 698.5C1554.1 713.5 1554.1 713.5 1582 713.5C1614.8 713.5 1614.8 713.5 1655 693Q1735.6 650.3 1816.2 607.6L1581.6 488Z" fill="url(#cg0)"/>
<ellipse cx="1581.6" cy="490.9" rx="327.0" ry="167.7" fill="#08358f"/>
<ellipse cx="1581.6" cy="490.9" rx="327.0" ry="165.2" fill="#0553e4"/>
<ellipse cx="1581.6" cy="489.6" rx="327.0" ry="164.7" fill="#08358f"/>
<ellipse cx="1581.6" cy="489.6" rx="327.0" ry="162.2" fill="#0a42ae"/>
<path d="M1908.6 488.0L1907.4 502.0L1903.6 516.0L1897.5 529.7L1888.9 543.1L1878.0 556.0L1864.8 568.5L1849.5 580.3L1832.1 591.5L1812.8 601.8L1791.8 611.3L1769.2 619.9L1745.1 627.4L1719.8 633.9L1693.4 639.3L1666.2 643.5L1638.4 646.6L1610.1 648.4L1581.6 649.0L1553.1 648.4L1524.8 646.6L1497.0 643.5L1469.8 639.3L1443.4 633.9L1418.1 627.4L1394.0 619.9L1371.4 611.3L1350.4 601.8L1331.1 591.5L1313.7 580.3L1298.4 568.5L1285.2 556.0L1274.3 543.1L1265.7 529.7L1259.6 516.0L1255.8 502.0L1254.6 488.0L1255.8 473.4L1259.6 458.8L1265.7 444.5L1274.3 430.5L1285.2 417.0L1298.4 404.0L1313.7 391.6L1331.1 380.0L1350.4 369.2L1371.4 359.3L1394.0 350.4L1418.1 342.5L1443.4 335.7L1469.8 330.1L1497.0 325.7L1524.8 322.6L1553.1 320.6L1581.6 320.0L1610.1 320.6L1638.4 322.6L1666.2 325.7L1693.4 330.1L1719.8 335.7L1745.1 342.5L1769.2 350.4L1791.8 359.3L1812.8 369.2L1832.1 380.0L1849.5 391.6L1864.8 404.0L1878.0 417.0L1888.9 430.5L1897.5 444.5L1903.6 458.8L1907.4 473.4Z" fill="#0553e4" stroke="#061e6e" stroke-opacity="0.8" stroke-width="2.6"/>
<g clip-path="url(#cc0)"><path d="M1400.0 290.0L1400.0 351.9L1408.0 351.9L1408.0 352.2L1416.0 352.2L1416.0 351.4L1424.0 351.4L1424.0 350.1L1432.0 350.1L1432.0 348.6L1440.0 348.6L1440.0 347.0L1448.0 347.0L1448.0 345.4L1456.0 345.4L1456.0 348.1L1464.0 348.1L1464.0 355.5L1472.0 355.5L1472.0 359.0L1480.0 359.0L1480.0 359.9L1488.0 359.9L1488.0 362.9L1496.0 362.9L1496.0 364.2L1504.0 364.2L1504.0 366.0L1512.0 366.0L1512.0 367.1L1520.0 367.1L1520.0 365.1L1528.0 365.1L1528.0 365.1L1536.0 365.1L1536.0 368.1L1544.0 368.1L1544.0 366.7L1552.0 366.7L1552.0 367.9L1560.0 367.9L1560.0 365.2L1568.0 365.2L1568.0 366.8L1576.0 366.8L1576.0 367.8L1584.0 367.8L1584.0 366.0L1592.0 366.0L1592.0 368.6L1600.0 368.6L1600.0 368.4L1608.0 368.4L1608.0 365.2L1616.0 365.2L1616.0 365.0L1624.0 365.0L1624.0 366.6L1632.0 366.6L1632.0 367.6L1640.0 367.6L1640.0 364.8L1648.0 364.8L1648.0 363.1L1656.0 363.1L1656.0 362.2L1664.0 362.2L1664.0 358.5L1672.0 358.5L1672.0 356.1L1680.0 356.1L1680.0 352.7L1688.0 352.7L1688.0 347.6L1696.0 347.6L1696.0 343.0L1704.0 343.0L1704.0 344.4L1712.0 344.4L1712.0 345.8L1720.0 345.8L1720.0 347.2L1728.0 347.2L1728.0 348.3L1736.0 348.3L1736.0 348.9L1744.0 348.9L1744.0 348.3L1752.0 348.3L1752.0 290.0Z" fill="#1cc0ee"/><path d="M1431.0 290.0L1431.0 341.0L1439.0 341.0L1439.0 340.8L1447.0 340.8L1447.0 339.8L1455.0 339.8L1455.0 338.6L1463.0 338.6L1463.0 346.6L1471.0 346.6L1471.0 352.4L1479.0 352.4L1479.0 353.6L1487.0 353.6L1487.0 356.9L1495.0 356.9L1495.0 362.0L1503.0 362.0L1503.0 363.3L1511.0 363.3L1511.0 364.1L1519.0 364.1L1519.0 363.5L1527.0 363.5L1527.0 365.0L1535.0 365.0L1535.0 365.2L1543.0 365.2L1543.0 365.2L1551.0 365.2L1551.0 363.8L1559.0 363.8L1559.0 364.7L1567.0 364.7L1567.0 364.6L1575.0 364.6L1575.0 365.8L1583.0 365.8L1583.0 366.8L1591.0 366.8L1591.0 366.6L1599.0 366.6L1599.0 365.1L1607.0 365.1L1607.0 364.7L1615.0 364.7L1615.0 363.8L1623.0 363.8L1623.0 362.6L1631.0 362.6L1631.0 361.9L1639.0 361.9L1639.0 362.4L1647.0 362.4L1647.0 360.3L1655.0 360.3L1655.0 358.2L1663.0 358.2L1663.0 356.8L1671.0 356.8L1671.0 351.0L1679.0 351.0L1679.0 345.2L1687.0 345.2L1687.0 336.4L1695.0 336.4L1695.0 337.2L1703.0 337.2L1703.0 338.1L1711.0 338.1L1711.0 338.4L1719.0 338.4L1719.0 336.5L1721.0 336.5L1721.0 290.0Z" fill="#0af0a0"/><path d="M1468.0 334.5L1476.0 334.5L1476.0 343.8L1484.0 343.8L1484.0 349.3L1492.0 349.3L1492.0 354.6L1500.0 354.6L1500.0 357.8L1508.0 357.8L1508.0 357.9L1516.0 357.9L1516.0 359.1L1524.0 359.1L1524.0 362.9L1532.0 362.9L1532.0 361.3L1540.0 361.3L1540.0 361.4L1548.0 361.4L1548.0 364.2L1556.0 364.2L1556.0 362.4L1564.0 362.4L1564.0 363.7L1572.0 363.7L1572.0 362.4L1580.0 362.4L1580.0 363.0L1588.0 363.0L1588.0 361.2L1596.0 361.2L1596.0 362.9L1604.0 362.9L1604.0 363.7L1612.0 363.7L1612.0 362.2L1620.0 362.2L1620.0 362.5L1628.0 362.5L1628.0 361.3L1636.0 361.3L1636.0 357.7L1644.0 357.7L1644.0 357.9L1652.0 357.9L1652.0 354.0L1660.0 354.0L1660.0 348.2L1668.0 348.2L1668.0 340.8L1676.0 340.8L1676.0 335.1L1684.0 335.1L1684.0 328.4L1676.0 327.6L1676.0 327.6L1668.0 326.8L1668.0 326.8L1660.0 326.1L1660.0 326.1L1652.0 325.5L1652.0 325.5L1644.0 324.9L1644.0 324.9L1636.0 324.4L1636.0 324.4L1628.0 324.0L1628.0 324.0L1620.0 323.7L1620.0 323.7L1612.0 323.4L1612.0 323.4L1604.0 323.2L1604.0 323.2L1596.0 323.1L1596.0 323.1L1588.0 323.0L1588.0 323.0L1580.0 323.0L1580.0 323.0L1572.0 323.1L1572.0 323.1L1564.0 323.2L1564.0 323.2L1556.0 323.4L1556.0 323.4L1548.0 323.7L1548.0 323.7L1540.0 324.0L1540.0 324.0L1532.0 324.4L1532.0 324.4L1524.0 324.9L1524.0 324.9L1516.0 325.5L1516.0 325.5L1508.0 326.1L1508.0 326.1L1500.0 326.8L1500.0 326.8L1492.0 327.6L1492.0 327.6L1484.0 328.5L1484.0 328.5L1476.0 329.4L1476.0 329.4L1468.0 330.5Z" fill="#14e81e"/><ellipse cx="1576.4" cy="350.3" rx="27" ry="7.5" fill="#f0f00a"/><ellipse cx="1576.4" cy="350.3" rx="14" ry="4.5" fill="#ffa80a"/><ellipse cx="1577" cy="350.5" rx="7" ry="2.5" fill="#f00a0a"/><rect x="1479.0" y="358.0" width="14" height="6" fill="#0a14e6"/><rect x="1497.0" y="362.0" width="14" height="6" fill="#0a14e6"/><rect x="1543.0" y="367.0" width="14" height="6" fill="#0a14e6"/><rect x="1602.0" y="366.0" width="14" height="6" fill="#0a14e6"/><rect x="1634.0" y="363.0" width="14" height="6" fill="#0a14e6"/><rect x="1657.0" y="358.0" width="14" height="6" fill="#0a14e6"/><path d="M1379.0 679.0L1379.0 609.4L1387.0 609.4L1387.0 608.3L1395.0 608.3L1395.0 608.9L1403.0 608.9L1403.0 610.0L1411.0 610.0L1411.0 611.5L1419.0 611.5L1419.0 613.1L1427.0 613.1L1427.0 614.8L1435.0 614.8L1435.0 616.4L1443.0 616.4L1443.0 612.5L1451.0 612.5L1451.0 606.0L1459.0 606.0L1459.0 602.8L1467.0 602.8L1467.0 597.8L1475.0 597.8L1475.0 594.4L1483.0 594.4L1483.0 593.8L1491.0 593.8L1491.0 594.7L1499.0 594.7L1499.0 592.9L1507.0 592.9L1507.0 591.8L1515.0 591.8L1515.0 588.5L1523.0 588.5L1523.0 589.7L1531.0 589.7L1531.0 588.1L1539.0 588.1L1539.0 587.5L1547.0 587.5L1547.0 587.1L1555.0 587.1L1555.0 587.6L1563.0 587.6L1563.0 591.1L1571.0 591.1L1571.0 590.6L1579.0 590.6L1579.0 590.5L1587.0 590.5L1587.0 590.5L1595.0 590.5L1595.0 587.5L1603.0 587.5L1603.0 588.1L1611.0 588.1L1611.0 589.7L1619.0 589.7L1619.0 590.2L1627.0 590.2L1627.0 590.9L1635.0 590.9L1635.0 591.2L1643.0 591.2L1643.0 587.6L1651.0 587.6L1651.0 590.6L1659.0 590.6L1659.0 591.7L1667.0 591.7L1667.0 591.8L1675.0 591.8L1675.0 591.6L1683.0 591.6L1683.0 594.9L1691.0 594.9L1691.0 595.4L1699.0 595.4L1699.0 602.8L1707.0 602.8L1707.0 606.4L1715.0 606.4L1715.0 609.8L1723.0 609.8L1723.0 615.6L1731.0 615.6L1731.0 613.9L1739.0 613.9L1739.0 612.1L1747.0 612.1L1747.0 610.3L1755.0 610.3L1755.0 608.6L1763.0 608.6L1763.0 607.1L1771.0 607.1L1771.0 606.1L1779.0 606.1L1779.0 606.0L1787.0 606.0L1787.0 611.7L1791.0 611.7L1791.0 679.0Z" fill="#1cc0ee"/><path d="M1418.0 623.9L1426.0 623.9L1426.0 623.3L1434.0 623.3L1434.0 623.9L1442.0 623.9L1442.0 624.9L1450.0 624.9L1450.0 624.2L1458.0 624.2L1458.0 617.0L1466.0 617.0L1466.0 611.1L1474.0 611.1L1474.0 606.9L1482.0 606.9L1482.0 602.1L1490.0 602.1L1490.0 600.1L1498.0 600.1L1498.0 593.5L1506.0 593.5L1506.0 594.1L1514.0 594.1L1514.0 595.4L1522.0 595.4L1522.0 593.2L1530.0 593.2L1530.0 594.0L1538.0 594.0L1538.0 589.8L1546.0 589.8L1546.0 591.5L1554.0 591.5L1554.0 590.3L1562.0 590.3L1562.0 591.7L1570.0 591.7L1570.0 591.9L1578.0 591.9L1578.0 589.1L1586.0 589.1L1586.0 590.1L1594.0 590.1L1594.0 590.4L1602.0 590.4L1602.0 593.6L1610.0 593.6L1610.0 592.8L1618.0 592.8L1618.0 589.9L1626.0 589.9L1626.0 593.1L1634.0 593.1L1634.0 590.0L1642.0 590.0L1642.0 592.8L1650.0 592.8L1650.0 590.8L1658.0 590.8L1658.0 591.0L1666.0 591.0L1666.0 596.6L1674.0 596.6L1674.0 594.9L1682.0 594.9L1682.0 597.3L1690.0 597.3L1690.0 604.1L1698.0 604.1L1698.0 607.6L1706.0 607.6L1706.0 609.7L1714.0 609.7L1714.0 619.4L1722.0 619.4L1722.0 622.5L1730.0 622.5L1730.0 621.2L1738.0 621.2L1738.0 620.2L1746.0 620.2L1746.0 619.8L1754.0 619.8L1754.0 623.6L1758.0 623.6L1758.0 623.6L1754.0 624.7L1754.0 624.7L1746.0 626.8L1746.0 626.8L1738.0 628.7L1738.0 628.7L1730.0 630.6L1730.0 630.6L1722.0 632.3L1722.0 632.3L1714.0 633.9L1714.0 633.9L1706.0 635.3L1706.0 635.3L1698.0 636.7L1698.0 636.7L1690.0 638.0L1690.0 638.0L1682.0 639.1L1682.0 639.1L1674.0 640.2L1674.0 640.2L1666.0 641.2L1666.0 641.2L1658.0 642.1L1658.0 642.1L1650.0 642.8L1650.0 642.8L1642.0 643.5L1642.0 643.5L1634.0 644.1L1634.0 644.1L1626.0 644.7L1626.0 644.7L1618.0 645.1L1618.0 645.1L1610.0 645.4L1610.0 645.4L1602.0 645.7L1602.0 645.7L1594.0 645.9L1594.0 645.9L1586.0 646.0L1586.0 646.0L1578.0 646.0L1578.0 646.0L1570.0 645.9L1570.0 645.9L1562.0 645.8L1562.0 645.8L1554.0 645.5L1554.0 645.5L1546.0 645.2L1546.0 645.2L1538.0 644.8L1538.0 644.8L1530.0 644.3L1530.0 644.3L1522.0 643.8L1522.0 643.8L1514.0 643.1L1514.0 643.1L1506.0 642.3L1506.0 642.3L1498.0 641.5L1498.0 641.5L1490.0 640.6L1490.0 640.6L1482.0 639.5L1482.0 639.5L1474.0 638.4L1474.0 638.4L1466.0 637.1L1466.0 637.1L1458.0 635.8L1458.0 635.8L1450.0 634.4L1450.0 634.4L1442.0 632.8L1442.0 632.8L1434.0 631.1L1434.0 631.1L1426.0 629.3L1426.0 629.3L1418.0 627.4Z" fill="#0af0a0"/><path d="M1462.0 633.5L1470.0 633.5L1470.0 623.8L1478.0 623.8L1478.0 614.3L1486.0 614.3L1486.0 607.2L1494.0 607.2L1494.0 601.4L1502.0 601.4L1502.0 601.4L1510.0 601.4L1510.0 598.1L1518.0 598.1L1518.0 597.8L1526.0 597.8L1526.0 594.8L1534.0 594.8L1534.0 596.1L1542.0 596.1L1542.0 593.2L1550.0 593.2L1550.0 595.7L1558.0 595.7L1558.0 595.2L1566.0 595.2L1566.0 593.6L1574.0 593.6L1574.0 594.2L1582.0 594.2L1582.0 594.9L1590.0 594.9L1590.0 592.5L1598.0 592.5L1598.0 594.3L1606.0 594.3L1606.0 595.5L1614.0 595.5L1614.0 592.9L1622.0 592.9L1622.0 595.7L1630.0 595.7L1630.0 595.3L1638.0 595.3L1638.0 596.4L1646.0 596.4L1646.0 594.5L1654.0 594.5L1654.0 594.3L1662.0 594.3L1662.0 599.4L1670.0 599.4L1670.0 601.6L1678.0 601.6L1678.0 602.8L1686.0 602.8L1686.0 605.2L1694.0 605.2L1694.0 611.3L1702.0 611.3L1702.0 620.6L1710.0 620.6L1710.0 627.9L1718.0 627.9L1718.0 634.3L1710.0 635.0L1710.0 635.0L1702.0 635.6L1702.0 635.6L1694.0 636.1L1694.0 636.1L1686.0 636.6L1686.0 636.6L1678.0 637.1L1678.0 637.1L1670.0 637.5L1670.0 637.5L1662.0 637.9L1662.0 637.9L1654.0 638.3L1654.0 638.3L1646.0 638.6L1646.0 638.6L1638.0 638.9L1638.0 638.9L1630.0 639.1L1630.0 639.1L1622.0 639.3L1622.0 639.3L1614.0 639.5L1614.0 639.5L1606.0 639.7L1606.0 639.7L1598.0 639.8L1598.0 639.8L1590.0 639.9L1590.0 639.9L1582.0 640.0L1582.0 640.0L1574.0 640.1L1574.0 640.1L1566.0 640.1L1566.0 640.1L1558.0 640.1L1558.0 640.1L1550.0 640.1L1550.0 640.1L1542.0 640.1L1542.0 640.1L1534.0 640.0L1534.0 640.0L1526.0 639.9L1526.0 639.9L1518.0 639.8L1518.0 639.8L1510.0 639.6L1510.0 639.6L1502.0 639.4L1502.0 639.4L1494.0 639.2L1494.0 639.2L1486.0 638.9L1486.0 638.9L1478.0 638.6L1478.0 638.6L1470.0 638.2L1470.0 638.2L1462.0 637.8Z" fill="#14e81e"/><ellipse cx="1584" cy="607" rx="30" ry="10" fill="#f0f00a"/><ellipse cx="1584" cy="607" rx="16" ry="6" fill="#ffa80a"/><ellipse cx="1584" cy="607.5" rx="8" ry="3" fill="#f00a0a"/><rect x="1471.0" y="590.0" width="14" height="6" fill="#0a14e6"/><rect x="1497.0" y="584.0" width="14" height="6" fill="#0a14e6"/><rect x="1538.0" y="581.0" width="14" height="6" fill="#0a14e6"/><rect x="1610.0" y="581.0" width="14" height="6" fill="#0a14e6"/><rect x="1648.0" y="583.0" width="14" height="6" fill="#0a14e6"/><rect x="1677.0" y="587.0" width="14" height="6" fill="#0a14e6"/></g>
<defs><linearGradient id="cg1" x1="0" x2="1" y1="0" y2="0"><stop offset="0" stop-color="#0a42ae"/><stop offset="0.3" stop-color="#0553e4" stop-opacity="0.0"/><stop offset="0.55" stop-color="#08358f" stop-opacity="0.35"/><stop offset="1" stop-color="#08358f" stop-opacity="0.25"/></linearGradient><clipPath id="cc1"><path d="M1340.5 1188.0L1339.3 1201.2L1335.9 1214.2L1330.2 1227.1L1322.2 1239.6L1312.1 1251.8L1299.9 1263.5L1285.7 1274.6L1269.6 1285.1L1251.8 1294.8L1232.3 1303.7L1211.3 1311.7L1189.0 1318.8L1165.6 1324.9L1141.1 1329.9L1115.9 1333.9L1090.1 1336.7L1063.9 1338.4L1037.5 1339.0L1011.1 1338.4L984.9 1336.7L959.1 1333.9L933.9 1329.9L909.4 1324.9L886.0 1318.8L863.7 1311.7L842.7 1303.7L823.2 1294.8L805.4 1285.1L789.3 1274.6L775.1 1263.5L762.9 1251.8L752.8 1239.6L744.8 1227.1L739.1 1214.2L735.7 1201.2L734.5 1188.0L735.7 1174.7L739.1 1161.5L744.8 1148.5L752.8 1135.8L762.9 1123.6L775.1 1111.8L789.3 1100.5L805.4 1090.0L823.2 1080.2L842.7 1071.2L863.7 1063.1L886.0 1055.9L909.4 1049.8L933.9 1044.7L959.1 1040.7L984.9 1037.8L1011.1 1036.1L1037.5 1035.5L1063.9 1036.1L1090.1 1037.8L1115.9 1040.7L1141.1 1044.7L1165.6 1049.8L1189.0 1055.9L1211.3 1063.1L1232.3 1071.2L1251.8 1080.2L1269.6 1090.0L1285.7 1100.5L1299.9 1111.8L1312.1 1123.6L1322.2 1135.8L1330.2 1148.5L1335.9 1161.5L1339.3 1174.7Z"/></clipPath><clipPath id="cb1"><path d="M821.4 1306.0Q903.2 1349.5 985 1393C1016.4 1402.0 1016.4 1402 1042 1402C1068.1 1402 1068.1 1402.0 1100 1388Q1177.2 1346.8 1254.4 1305.6L1037.5 1188Z"/></clipPath></defs>
<path d="M821.4 1306.0Q903.2 1349.5 985 1393C1016.4 1402.0 1016.4 1402 1042 1402C1068.1 1402 1068.1 1402.0 1100 1388Q1177.2 1346.8 1254.4 1305.6L1037.5 1188Z" fill="#0a42ae"/>
<path d="M821.4 1306.0Q903.2 1349.5 985 1393C1016.4 1402.0 1016.4 1402 1042 1402C1068.1 1402 1068.1 1402.0 1100 1388Q1177.2 1346.8 1254.4 1305.6L1037.5 1188Z" fill="url(#cg1)"/>
<g clip-path="url(#cb1)"><path d="M900.0 1333.2L911.7 1336.1L923.3 1338.8L935.0 1341.1L946.7 1343.2L958.3 1345.0L970.0 1346.5L981.7 1347.8L993.3 1348.8L1005.0 1349.6L1016.7 1350.1L1028.3 1350.4L1040.0 1350.5L1051.7 1350.3L1063.3 1349.9L1075.0 1349.3L1086.7 1348.4L1098.3 1347.3L1110.0 1345.9L1121.7 1344.2L1133.3 1342.3L1145.0 1340.1L1156.7 1337.7L1168.3 1334.9L1180.0 1331.8" fill="none" stroke="#12b4d0" stroke-opacity="0.75" stroke-width="3.5" stroke-linecap="round"/></g>
<ellipse cx="1037.5" cy="1191.6" rx="305.5" ry="161.9" fill="#08358f"/>
<ellipse cx="1037.5" cy="1191.6" rx="305.5" ry="159.4" fill="#0553e4"/>
<ellipse cx="1037.5" cy="1190.0" rx="305.5" ry="158.1" fill="#08358f"/>
<ellipse cx="1037.5" cy="1190.0" rx="305.5" ry="155.6" fill="#0a42ae"/>
<path d="M1343.0 1188.0L1341.8 1201.4L1338.4 1214.7L1332.6 1227.7L1324.6 1240.5L1314.4 1252.9L1302.1 1264.8L1287.8 1276.0L1271.5 1286.7L1253.5 1296.5L1233.9 1305.6L1212.7 1313.7L1190.2 1320.9L1166.6 1327.1L1142.0 1332.2L1116.6 1336.3L1090.5 1339.2L1064.1 1340.9L1037.5 1341.5L1010.9 1340.9L984.5 1339.2L958.4 1336.3L933.0 1332.2L908.4 1327.1L884.8 1320.9L862.3 1313.7L841.1 1305.6L821.5 1296.5L803.5 1286.7L787.2 1276.0L772.9 1264.8L760.6 1252.9L750.4 1240.5L742.4 1227.7L736.6 1214.7L733.2 1201.4L732.0 1188.0L733.2 1174.5L736.6 1161.1L742.4 1147.9L750.4 1135.0L760.6 1122.5L772.9 1110.5L787.2 1099.1L803.5 1088.4L821.5 1078.4L841.1 1069.3L862.3 1061.0L884.7 1053.8L908.4 1047.5L933.0 1042.3L958.4 1038.3L984.5 1035.4L1010.9 1033.6L1037.5 1033.0L1064.1 1033.6L1090.5 1035.4L1116.6 1038.3L1142.0 1042.3L1166.6 1047.5L1190.2 1053.8L1212.7 1061.0L1233.9 1069.3L1253.5 1078.4L1271.5 1088.4L1287.8 1099.1L1302.1 1110.5L1314.4 1122.5L1324.6 1135.0L1332.6 1147.9L1338.4 1161.1L1341.8 1174.5Z" fill="#0553e4" stroke="#061e6e" stroke-opacity="0.8" stroke-width="2.6"/>
<g clip-path="url(#cc1)"><path d="M853.0 1003.0L853.0 1066.8L861.0 1066.8L861.0 1070.9L869.0 1070.9L869.0 1074.8L877.0 1074.8L877.0 1074.9L885.0 1074.9L885.0 1076.2L893.0 1076.2L893.0 1077.2L901.0 1077.2L901.0 1076.2L909.0 1076.2L909.0 1077.7L917.0 1077.7L917.0 1078.3L925.0 1078.3L925.0 1079.0L933.0 1079.0L933.0 1076.5L941.0 1076.5L941.0 1077.3L949.0 1077.3L949.0 1076.5L957.0 1076.5L957.0 1079.1L965.0 1079.1L965.0 1078.7L973.0 1078.7L973.0 1076.4L981.0 1076.4L981.0 1079.7L989.0 1079.7L989.0 1079.7L997.0 1079.7L997.0 1078.6L1005.0 1078.6L1005.0 1078.4L1013.0 1078.4L1013.0 1076.8L1021.0 1076.8L1021.0 1076.3L1029.0 1076.3L1029.0 1078.1L1037.0 1078.1L1037.0 1076.4L1045.0 1076.4L1045.0 1076.9L1053.0 1076.9L1053.0 1077.1L1061.0 1077.1L1061.0 1076.3L1069.0 1076.3L1069.0 1077.9L1077.0 1077.9L1077.0 1077.8L1085.0 1077.8L1085.0 1079.2L1093.0 1079.2L1093.0 1078.1L1101.0 1078.1L1101.0 1078.5L1109.0 1078.5L1109.0 1078.0L1117.0 1078.0L1117.0 1078.6L1125.0 1078.6L1125.0 1077.8L1133.0 1077.8L1133.0 1077.1L1141.0 1077.1L1141.0 1079.6L1149.0 1079.6L1149.0 1079.3L1157.0 1079.3L1157.0 1078.4L1165.0 1078.4L1165.0 1077.4L1173.0 1077.4L1173.0 1075.1L1181.0 1075.1L1181.0 1073.3L1189.0 1073.3L1189.0 1071.4L1197.0 1071.4L1197.0 1067.4L1205.0 1067.4L1205.0 1065.2L1213.0 1065.2L1213.0 1003.0Z" fill="#1cc0ee"/><path d="M859.0 1003.0L859.0 1064.5L867.0 1064.5L867.0 1068.8L875.0 1068.8L875.0 1071.4L883.0 1071.4L883.0 1071.3L891.0 1071.3L891.0 1072.1L899.0 1072.1L899.0 1074.2L907.0 1074.2L907.0 1074.4L915.0 1074.4L915.0 1076.6L923.0 1076.6L923.0 1076.4L931.0 1076.4L931.0 1076.2L939.0 1076.2L939.0 1076.1L947.0 1076.1L947.0 1076.5L955.0 1076.5L955.0 1074.7L963.0 1074.7L963.0 1075.8L971.0 1075.8L971.0 1074.8L979.0 1074.8L979.0 1077.5L987.0 1077.5L987.0 1074.4L995.0 1074.4L995.0 1077.1L1003.0 1077.1L1003.0 1074.5L1011.0 1074.5L1011.0 1076.7L1019.0 1076.7L1019.0 1075.4L1027.0 1075.4L1027.0 1075.7L1035.0 1075.7L1035.0 1077.2L1043.0 1077.2L1043.0 1074.3L1051.0 1074.3L1051.0 1074.4L1059.0 1074.4L1059.0 1077.5L1067.0 1077.5L1067.0 1076.0L1075.0 1076.0L1075.0 1074.5L1083.0 1074.5L1083.0 1077.8L1091.0 1077.8L1091.0 1077.6L1099.0 1077.6L1099.0 1074.6L1107.0 1074.6L1107.0 1075.7L1115.0 1075.7L1115.0 1074.6L1123.0 1074.6L1123.0 1075.2L1131.0 1075.2L1131.0 1076.2L1139.0 1076.2L1139.0 1074.4L1147.0 1074.4L1147.0 1076.0L1155.0 1076.0L1155.0 1073.1L1163.0 1073.1L1163.0 1072.7L1171.0 1072.7L1171.0 1073.8L1179.0 1073.8L1179.0 1070.5L1187.0 1070.5L1187.0 1067.9L1195.0 1067.9L1195.0 1064.7L1203.0 1064.7L1203.0 1059.0L1207.0 1059.0L1207.0 1003.0Z" fill="#14e81e"/><path d="M883.0 1056.4L891.0 1056.4L891.0 1062.9L899.0 1062.9L899.0 1066.6L907.0 1066.6L907.0 1069.9L915.0 1069.9L915.0 1069.5L923.0 1069.5L923.0 1071.0L931.0 1071.0L931.0 1071.7L939.0 1071.7L939.0 1072.6L947.0 1072.6L947.0 1074.8L955.0 1074.8L955.0 1072.9L963.0 1072.9L963.0 1074.5L971.0 1074.5L971.0 1073.4L979.0 1073.4L979.0 1073.7L987.0 1073.7L987.0 1074.2L995.0 1074.2L995.0 1075.7L1003.0 1075.7L1003.0 1074.9L1011.0 1074.9L1011.0 1072.8L1019.0 1072.8L1019.0 1073.7L1027.0 1073.7L1027.0 1073.2L1035.0 1073.2L1035.0 1075.8L1043.0 1075.8L1043.0 1075.6L1051.0 1075.6L1051.0 1075.6L1059.0 1075.6L1059.0 1075.7L1067.0 1075.7L1067.0 1075.4L1075.0 1075.4L1075.0 1076.1L1083.0 1076.1L1083.0 1075.5L1091.0 1075.5L1091.0 1073.5L1099.0 1073.5L1099.0 1075.5L1107.0 1075.5L1107.0 1074.0L1115.0 1074.0L1115.0 1074.6L1123.0 1074.6L1123.0 1073.4L1131.0 1073.4L1131.0 1072.0L1139.0 1072.0L1139.0 1070.5L1147.0 1070.5L1147.0 1068.8L1155.0 1068.8L1155.0 1065.8L1163.0 1065.8L1163.0 1061.5L1171.0 1061.5L1171.0 1059.2L1179.0 1059.2L1179.0 1051.7L1183.0 1051.7L1183.0 1051.7L1179.0 1050.8L1179.0 1050.8L1171.0 1049.0L1171.0 1049.0L1163.0 1047.4L1163.0 1047.4L1155.0 1045.9L1155.0 1045.9L1147.0 1044.6L1147.0 1044.6L1139.0 1043.3L1139.0 1043.3L1131.0 1042.2L1131.0 1042.2L1123.0 1041.1L1123.0 1041.1L1115.0 1040.2L1115.0 1040.2L1107.0 1039.3L1107.0 1039.3L1099.0 1038.6L1099.0 1038.6L1091.0 1037.9L1091.0 1037.9L1083.0 1037.4L1083.0 1037.4L1075.0 1036.9L1075.0 1036.9L1067.0 1036.6L1067.0 1036.6L1059.0 1036.3L1059.0 1036.3L1051.0 1036.1L1051.0 1036.1L1043.0 1036.0L1043.0 1036.0L1035.0 1036.0L1035.0 1036.0L1027.0 1036.1L1027.0 1036.1L1019.0 1036.3L1019.0 1036.3L1011.0 1036.5L1011.0 1036.5L1003.0 1036.9L1003.0 1036.9L995.0 1037.3L995.0 1037.3L987.0 1037.9L987.0 1037.9L979.0 1038.5L979.0 1038.5L971.0 1039.2L971.0 1039.2L963.0 1040.0L963.0 1040.0L955.0 1040.9L955.0 1040.9L947.0 1042.0L947.0 1042.0L939.0 1043.1L939.0 1043.1L931.0 1044.3L931.0 1044.3L923.0 1045.7L923.0 1045.7L915.0 1047.2L915.0 1047.2L907.0 1048.7L907.0 1048.7L899.0 1050.4L899.0 1050.4L891.0 1052.3L891.0 1052.3L883.0 1054.3Z" fill="#a8f80a"/><path d="M919.0 1047.7L927.0 1047.7L927.0 1055.7L935.0 1055.7L935.0 1060.5L943.0 1060.5L943.0 1065.2L951.0 1065.2L951.0 1066.0L959.0 1066.0L959.0 1068.0L967.0 1068.0L967.0 1070.9L975.0 1070.9L975.0 1071.7L983.0 1071.7L983.0 1071.3L991.0 1071.3L991.0 1072.8L999.0 1072.8L999.0 1072.1L1007.0 1072.1L1007.0 1073.3L1015.0 1073.3L1015.0 1071.4L1023.0 1071.4L1023.0 1071.7L1031.0 1071.7L1031.0 1073.7L1039.0 1073.7L1039.0 1072.1L1047.0 1072.1L1047.0 1071.8L1055.0 1071.8L1055.0 1073.3L1063.0 1073.3L1063.0 1072.6L1071.0 1072.6L1071.0 1070.7L1079.0 1070.7L1079.0 1071.3L1087.0 1071.3L1087.0 1070.5L1095.0 1070.5L1095.0 1067.4L1103.0 1067.4L1103.0 1066.6L1111.0 1066.6L1111.0 1061.9L1119.0 1061.9L1119.0 1058.4L1127.0 1058.4L1127.0 1052.2L1135.0 1052.2L1135.0 1045.7L1143.0 1045.7L1143.0 1042.5L1135.0 1042.2L1135.0 1042.2L1127.0 1041.9L1127.0 1041.9L1119.0 1041.7L1119.0 1041.7L1111.0 1041.5L1111.0 1041.5L1103.0 1041.3L1103.0 1041.3L1095.0 1041.2L1095.0 1041.2L1087.0 1041.0L1087.0 1041.0L1079.0 1041.0L1079.0 1041.0L1071.0 1040.9L1071.0 1040.9L1063.0 1040.9L1063.0 1040.9L1055.0 1040.9L1055.0 1040.9L1047.0 1040.9L1047.0 1040.9L1039.0 1041.0L1039.0 1041.0L1031.0 1041.0L1031.0 1041.0L1023.0 1041.1L1023.0 1041.1L1015.0 1041.3L1015.0 1041.3L1007.0 1041.4L1007.0 1041.4L999.0 1041.6L999.0 1041.6L991.0 1041.8L991.0 1041.8L983.0 1042.0L983.0 1042.0L975.0 1042.3L975.0 1042.3L967.0 1042.6L967.0 1042.6L959.0 1042.9L959.0 1042.9L951.0 1043.3L951.0 1043.3L943.0 1043.7L943.0 1043.7L935.0 1044.1L935.0 1044.1L927.0 1044.6L927.0 1044.6L919.0 1045.1Z" fill="#d4f20a"/><ellipse cx="1031" cy="1064.5" rx="66" ry="4" fill="#ffa80a"/><ellipse cx="1022" cy="1065" rx="12" ry="3" fill="#f00a0a"/><ellipse cx="1048" cy="1064.5" rx="9" ry="2.5" fill="#f00a0a"/><rect x="955.0" y="1071.5" width="10" height="5" fill="#0a14e6"/><rect x="1095.0" y="1070.5" width="10" height="5" fill="#0a14e6"/><rect x="1113.0" y="1067.5" width="10" height="5" fill="#0a14e6"/><path d="M838.0 1371.5L838.0 1298.7L846.0 1298.7L846.0 1297.5L854.0 1297.5L854.0 1298.0L862.0 1298.0L862.0 1299.3L870.0 1299.3L870.0 1300.9L878.0 1300.9L878.0 1301.1L886.0 1301.1L886.0 1292.6L894.0 1292.6L894.0 1293.2L902.0 1293.2L902.0 1287.8L910.0 1287.8L910.0 1290.1L918.0 1290.1L918.0 1283.7L926.0 1283.7L926.0 1286.8L934.0 1286.8L934.0 1284.9L942.0 1284.9L942.0 1285.2L950.0 1285.2L950.0 1285.4L958.0 1285.4L958.0 1281.3L966.0 1281.3L966.0 1281.5L974.0 1281.5L974.0 1283.2L982.0 1283.2L982.0 1281.0L990.0 1281.0L990.0 1280.9L998.0 1280.9L998.0 1280.7L1006.0 1280.7L1006.0 1283.8L1014.0 1283.8L1014.0 1283.9L1022.0 1283.9L1022.0 1283.5L1030.0 1283.5L1030.0 1280.6L1038.0 1280.6L1038.0 1284.1L1046.0 1284.1L1046.0 1282.1L1054.0 1282.1L1054.0 1280.7L1062.0 1280.7L1062.0 1281.8L1070.0 1281.8L1070.0 1281.6L1078.0 1281.6L1078.0 1279.9L1086.0 1279.9L1086.0 1282.3L1094.0 1282.3L1094.0 1281.3L1102.0 1281.3L1102.0 1282.4L1110.0 1282.4L1110.0 1284.3L1118.0 1284.3L1118.0 1283.0L1126.0 1283.0L1126.0 1282.0L1134.0 1282.0L1134.0 1284.6L1142.0 1284.6L1142.0 1285.6L1150.0 1285.6L1150.0 1283.6L1158.0 1283.6L1158.0 1286.6L1166.0 1286.6L1166.0 1282.9L1174.0 1282.9L1174.0 1284.7L1182.0 1284.7L1182.0 1286.4L1190.0 1286.4L1190.0 1292.2L1198.0 1292.2L1198.0 1293.3L1206.0 1293.3L1206.0 1296.4L1214.0 1296.4L1214.0 1295.3L1222.0 1295.3L1222.0 1293.4L1230.0 1293.4L1230.0 1291.9L1238.0 1291.9L1238.0 1291.2L1246.0 1291.2L1246.0 1293.1L1252.0 1293.1L1252.0 1371.5Z" fill="#1cc0ee"/><path d="M846.0 1303.0L854.0 1303.0L854.0 1302.2L862.0 1302.2L862.0 1302.9L870.0 1302.9L870.0 1304.3L878.0 1304.3L878.0 1305.8L886.0 1305.8L886.0 1301.1L894.0 1301.1L894.0 1297.7L902.0 1297.7L902.0 1294.1L910.0 1294.1L910.0 1291.7L918.0 1291.7L918.0 1289.5L926.0 1289.5L926.0 1289.2L934.0 1289.2L934.0 1286.0L942.0 1286.0L942.0 1287.0L950.0 1287.0L950.0 1283.3L958.0 1283.3L958.0 1284.3L966.0 1284.3L966.0 1284.1L974.0 1284.1L974.0 1283.0L982.0 1283.0L982.0 1285.9L990.0 1285.9L990.0 1283.6L998.0 1283.6L998.0 1286.0L1006.0 1286.0L1006.0 1286.8L1014.0 1286.8L1014.0 1283.3L1022.0 1283.3L1022.0 1286.5L1030.0 1286.5L1030.0 1286.0L1038.0 1286.0L1038.0 1285.3L1046.0 1285.3L1046.0 1282.1L1054.0 1282.1L1054.0 1284.3L1062.0 1284.3L1062.0 1285.1L1070.0 1285.1L1070.0 1283.5L1078.0 1283.5L1078.0 1283.1L1086.0 1283.1L1086.0 1283.6L1094.0 1283.6L1094.0 1283.4L1102.0 1283.4L1102.0 1286.1L1110.0 1286.1L1110.0 1284.0L1118.0 1284.0L1118.0 1284.5L1126.0 1284.5L1126.0 1285.9L1134.0 1285.9L1134.0 1287.8L1142.0 1287.8L1142.0 1285.1L1150.0 1285.1L1150.0 1284.5L1158.0 1284.5L1158.0 1290.2L1166.0 1290.2L1166.0 1290.8L1174.0 1290.8L1174.0 1292.2L1182.0 1292.2L1182.0 1293.0L1190.0 1293.0L1190.0 1294.3L1198.0 1294.3L1198.0 1297.2L1206.0 1297.2L1206.0 1300.6L1214.0 1300.6L1214.0 1298.7L1222.0 1298.7L1222.0 1297.1L1230.0 1297.1L1230.0 1296.2L1238.0 1296.2L1238.0 1297.6L1244.0 1297.6L1244.0 1301.1L1238.0 1303.5L1238.0 1303.5L1230.0 1306.5L1230.0 1306.5L1222.0 1309.3L1222.0 1309.3L1214.0 1311.9L1214.0 1311.9L1206.0 1314.3L1206.0 1314.3L1198.0 1316.6L1198.0 1316.6L1190.0 1318.7L1190.0 1318.7L1182.0 1320.6L1182.0 1320.6L1174.0 1322.4L1174.0 1322.4L1166.0 1324.1L1166.0 1324.1L1158.0 1325.7L1158.0 1325.7L1150.0 1327.1L1150.0 1327.1L1142.0 1328.4L1142.0 1328.4L1134.0 1329.6L1134.0 1329.6L1126.0 1330.7L1126.0 1330.7L1118.0 1331.7L1118.0 1331.7L1110.0 1332.6L1110.0 1332.6L1102.0 1333.5L1102.0 1333.5L1094.0 1334.2L1094.0 1334.2L1086.0 1334.8L1086.0 1334.8L1078.0 1335.3L1078.0 1335.3L1070.0 1335.7L1070.0 1335.7L1062.0 1336.0L1062.0 1336.0L1054.0 1336.3L1054.0 1336.3L1046.0 1336.4L1046.0 1336.4L1038.0 1336.5L1038.0 1336.5L1030.0 1336.5L1030.0 1336.5L1022.0 1336.4L1022.0 1336.4L1014.0 1336.2L1014.0 1336.2L1006.0 1335.9L1006.0 1335.9L998.0 1335.5L998.0 1335.5L990.0 1335.0L990.0 1335.0L982.0 1334.4L982.0 1334.4L974.0 1333.8L974.0 1333.8L966.0 1333.0L966.0 1333.0L958.0 1332.2L958.0 1332.2L950.0 1331.2L950.0 1331.2L942.0 1330.1L942.0 1330.1L934.0 1329.0L934.0 1329.0L926.0 1327.7L926.0 1327.7L918.0 1326.3L918.0 1326.3L910.0 1324.8L910.0 1324.8L902.0 1323.2L902.0 1323.2L894.0 1321.4L894.0 1321.4L886.0 1319.5L886.0 1319.5L878.0 1317.4L878.0 1317.4L870.0 1315.2L870.0 1315.2L862.0 1312.9L862.0 1312.9L854.0 1310.3L854.0 1310.3L846.0 1307.6Z" fill="#14e81e"/><path d="M865.0 1310.8L873.0 1310.8L873.0 1310.1L881.0 1310.1L881.0 1310.9L889.0 1310.9L889.0 1312.0L897.0 1312.0L897.0 1306.3L905.0 1306.3L905.0 1302.8L913.0 1302.8L913.0 1299.7L921.0 1299.7L921.0 1294.2L929.0 1294.2L929.0 1293.9L937.0 1293.9L937.0 1292.0L945.0 1292.0L945.0 1290.6L953.0 1290.6L953.0 1287.5L961.0 1287.5L961.0 1286.6L969.0 1286.6L969.0 1287.6L977.0 1287.6L977.0 1288.8L985.0 1288.8L985.0 1286.7L993.0 1286.7L993.0 1287.6L1001.0 1287.6L1001.0 1286.8L1009.0 1286.8L1009.0 1288.9L1017.0 1288.9L1017.0 1289.3L1025.0 1289.3L1025.0 1287.1L1033.0 1287.1L1033.0 1289.5L1041.0 1289.5L1041.0 1285.7L1049.0 1285.7L1049.0 1288.8L1057.0 1288.8L1057.0 1289.0L1065.0 1289.0L1065.0 1286.1L1073.0 1286.1L1073.0 1288.3L1081.0 1288.3L1081.0 1287.8L1089.0 1287.8L1089.0 1289.4L1097.0 1289.4L1097.0 1286.5L1105.0 1286.5L1105.0 1287.9L1113.0 1287.9L1113.0 1289.5L1121.0 1289.5L1121.0 1288.9L1129.0 1288.9L1129.0 1288.1L1137.0 1288.1L1137.0 1287.9L1145.0 1287.9L1145.0 1292.3L1153.0 1292.3L1153.0 1291.8L1161.0 1291.8L1161.0 1295.7L1169.0 1295.7L1169.0 1294.6L1177.0 1294.6L1177.0 1300.3L1185.0 1300.3L1185.0 1304.2L1193.0 1304.2L1193.0 1307.7L1201.0 1307.7L1201.0 1306.2L1209.0 1306.2L1209.0 1305.2L1217.0 1305.2L1217.0 1305.5L1225.0 1305.5L1225.0 1309.2L1217.0 1311.2L1217.0 1311.2L1209.0 1313.0L1209.0 1313.0L1201.0 1314.7L1201.0 1314.7L1193.0 1316.2L1193.0 1316.2L1185.0 1317.7L1185.0 1317.7L1177.0 1319.0L1177.0 1319.0L1169.0 1320.2L1169.0 1320.2L1161.0 1321.4L1161.0 1321.4L1153.0 1322.4L1153.0 1322.4L1145.0 1323.4L1145.0 1323.4L1137.0 1324.3L1137.0 1324.3L1129.0 1325.1L1129.0 1325.1L1121.0 1325.8L1121.0 1325.8L1113.0 1326.5L1113.0 1326.5L1105.0 1327.0L1105.0 1327.0L1097.0 1327.6L1097.0 1327.6L1089.0 1328.0L1089.0 1328.0L1081.0 1328.4L1081.0 1328.4L1073.0 1328.8L1073.0 1328.8L1065.0 1329.0L1065.0 1329.0L1057.0 1329.2L1057.0 1329.2L1049.0 1329.4L1049.0 1329.4L1041.0 1329.5L1041.0 1329.5L1033.0 1329.5L1033.0 1329.5L1025.0 1329.5L1025.0 1329.5L1017.0 1329.4L1017.0 1329.4L1009.0 1329.3L1009.0 1329.3L1001.0 1329.1L1001.0 1329.1L993.0 1328.9L993.0 1328.9L985.0 1328.5L985.0 1328.5L977.0 1328.2L977.0 1328.2L969.0 1327.7L969.0 1327.7L961.0 1327.2L961.0 1327.2L953.0 1326.6L953.0 1326.6L945.0 1326.0L945.0 1326.0L937.0 1325.3L937.0 1325.3L929.0 1324.5L929.0 1324.5L921.0 1323.6L921.0 1323.6L913.0 1322.6L913.0 1322.6L905.0 1321.6L905.0 1321.6L897.0 1320.4L897.0 1320.4L889.0 1319.2L889.0 1319.2L881.0 1317.8L881.0 1317.8L873.0 1316.3L873.0 1316.3L865.0 1314.7Z" fill="#a8f80a"/><path d="M912.0 1322.3L920.0 1322.3L920.0 1316.6L928.0 1316.6L928.0 1309.0L936.0 1309.0L936.0 1303.5L944.0 1303.5L944.0 1300.7L952.0 1300.7L952.0 1297.6L960.0 1297.6L960.0 1295.3L968.0 1295.3L968.0 1293.5L976.0 1293.5L976.0 1291.5L984.0 1291.5L984.0 1290.6L992.0 1290.6L992.0 1291.9L1000.0 1291.9L1000.0 1290.1L1008.0 1290.1L1008.0 1291.3L1016.0 1291.3L1016.0 1291.7L1024.0 1291.7L1024.0 1292.0L1032.0 1292.0L1032.0 1292.3L1040.0 1292.3L1040.0 1289.4L1048.0 1289.4L1048.0 1289.5L1056.0 1289.5L1056.0 1291.5L1064.0 1291.5L1064.0 1290.9L1072.0 1290.9L1072.0 1289.5L1080.0 1289.5L1080.0 1291.6L1088.0 1291.6L1088.0 1292.8L1096.0 1292.8L1096.0 1293.2L1104.0 1293.2L1104.0 1291.7L1112.0 1291.7L1112.0 1293.4L1120.0 1293.4L1120.0 1294.1L1128.0 1294.1L1128.0 1300.5L1136.0 1300.5L1136.0 1300.8L1144.0 1300.8L1144.0 1307.0L1152.0 1307.0L1152.0 1311.5L1160.0 1311.5L1160.0 1318.3L1168.0 1318.3L1168.0 1325.8L1172.0 1325.8L1172.0 1325.8L1168.0 1325.8L1168.0 1325.3L1160.0 1324.4L1160.0 1324.4L1152.0 1323.5L1152.0 1323.5L1144.0 1322.6L1144.0 1322.6L1136.0 1321.9L1136.0 1321.9L1128.0 1321.1L1128.0 1321.1L1120.0 1320.4L1120.0 1320.4L1112.0 1319.8L1112.0 1319.8L1104.0 1319.3L1104.0 1319.3L1096.0 1318.8L1096.0 1318.8L1088.0 1318.4L1088.0 1318.4L1080.0 1318.1L1080.0 1318.1L1072.0 1317.8L1072.0 1317.8L1064.0 1317.6L1064.0 1317.6L1056.0 1317.5L1056.0 1317.5L1048.0 1317.5L1048.0 1317.5L1040.0 1317.5L1040.0 1317.5L1032.0 1317.6L1032.0 1317.6L1024.0 1317.8L1024.0 1317.8L1016.0 1318.1L1016.0 1318.1L1008.0 1318.4L1008.0 1318.4L1000.0 1318.8L1000.0 1318.8L992.0 1319.3L992.0 1319.3L984.0 1319.9L984.0 1319.9L976.0 1320.5L976.0 1320.5L968.0 1321.3L968.0 1321.3L960.0 1322.0L960.0 1322.0L952.0 1322.9L952.0 1322.9L944.0 1323.8L944.0 1323.8L936.0 1324.7L936.0 1324.7L928.0 1325.8L928.0 1325.8L920.0 1326.8L920.0 1326.8L912.0 1327.9Z" fill="#dcf00a"/><path d="M958 1297q82 -12 166 0q-20 6 -84 6t-82 -6z" fill="#ffa80a"/><ellipse cx="1028" cy="1294.5" rx="13" ry="3" fill="#f00a0a"/><ellipse cx="1060" cy="1294" rx="12" ry="3" fill="#f00a0a"/><rect x="940.0" y="1282.5" width="10" height="5" fill="#0a14e6"/><rect x="963.0" y="1277.5" width="10" height="5" fill="#0a14e6"/><rect x="1125.0" y="1277.5" width="10" height="5" fill="#0a14e6"/></g>
<defs><linearGradient id="cg2" x1="0" x2="1" y1="0" y2="0"><stop offset="0" stop-color="#0a42ae"/><stop offset="0.3" stop-color="#0553e4" stop-opacity="0.0"/><stop offset="0.55" stop-color="#08358f" stop-opacity="0.35"/><stop offset="1" stop-color="#08358f" stop-opacity="0.25"/></linearGradient><clipPath id="cc2"><path d="M1957.5 2492.5L1956.3 2501.4L1952.8 2510.2L1946.9 2518.9L1938.7 2527.4L1928.3 2535.6L1915.8 2543.5L1901.2 2551.0L1884.6 2558.1L1866.3 2564.6L1846.2 2570.6L1824.7 2576.1L1801.8 2580.8L1777.6 2584.9L1752.5 2588.3L1726.6 2591.0L1700.1 2593.0L1673.1 2594.1L1646.0 2594.5L1618.9 2594.1L1591.9 2593.0L1565.4 2591.0L1539.5 2588.3L1514.4 2584.9L1490.2 2580.8L1467.3 2576.1L1445.8 2570.6L1425.7 2564.6L1407.4 2558.1L1390.8 2551.0L1376.2 2543.5L1363.7 2535.6L1353.3 2527.4L1345.1 2518.9L1339.2 2510.2L1335.7 2501.4L1334.5 2492.5L1335.7 2483.5L1339.2 2474.5L1345.1 2465.7L1353.3 2457.1L1363.7 2448.8L1376.2 2440.8L1390.8 2433.1L1407.4 2426.0L1425.7 2419.3L1445.8 2413.2L1467.3 2407.7L1490.2 2402.9L1514.4 2398.7L1539.5 2395.2L1565.4 2392.5L1591.9 2390.6L1618.9 2389.4L1646.0 2389.0L1673.1 2389.4L1700.1 2390.6L1726.6 2392.5L1752.5 2395.2L1777.6 2398.7L1801.7 2402.9L1824.7 2407.7L1846.2 2413.2L1866.3 2419.3L1884.6 2426.0L1901.2 2433.1L1915.8 2440.8L1928.3 2448.8L1938.7 2457.1L1946.9 2465.7L1952.8 2474.5L1956.3 2483.5Z"/></clipPath><clipPath id="cb2"><path d="M1361.8 2541.7Q1463.6 2627.3 1575 2700C1611.8 2718.5 1611.8 2718.5 1642 2718.5C1673.5 2718.5 1673.5 2718.5 1712 2700Q1832.0 2637.6 1928.6 2542.9L1646 2492.5Z"/></clipPath></defs>
<path d="M1361.8 2541.7Q1463.6 2627.3 1575 2700C1611.8 2718.5 1611.8 2718.5 1642 2718.5C1673.5 2718.5 1673.5 2718.5 1712 2700Q1832.0 2637.6 1928.6 2542.9L1646 2492.5Z" fill="#0a42ae"/>
<path d="M1361.8 2541.7Q1463.6 2627.3 1575 2700C1611.8 2718.5 1611.8 2718.5 1642 2718.5C1673.5 2718.5 1673.5 2718.5 1712 2700Q1832.0 2637.6 1928.6 2542.9L1646 2492.5Z" fill="url(#cg2)"/>
<g clip-path="url(#cb2)"><path d="M1455.0 2588.3L1469.8 2592.0L1484.6 2595.3L1499.4 2598.3L1514.2 2600.8L1529.0 2603.1L1543.8 2605.0L1558.5 2606.6L1573.3 2608.0L1588.1 2609.1L1602.9 2610.0L1617.7 2610.6L1632.5 2610.9L1647.3 2611.0L1662.1 2610.9L1676.9 2610.5L1691.7 2609.8L1706.5 2608.9L1721.2 2607.8L1736.0 2606.4L1750.8 2604.7L1765.6 2602.7L1780.4 2600.4L1795.2 2597.8L1810.0 2594.8" fill="none" stroke="#1496c8" stroke-opacity="0.8" stroke-width="8" stroke-linecap="round"/><path d="M1570 2617q60 8 120 0" fill="none" stroke="#1496c8" stroke-opacity="0.8" stroke-width="7" stroke-linecap="round"/></g>
<ellipse cx="1646" cy="2494.9" rx="314.0" ry="110.1" fill="#08358f"/>
<ellipse cx="1646" cy="2494.9" rx="314.0" ry="107.6" fill="#0553e4"/>
<ellipse cx="1646" cy="2493.8" rx="314.0" ry="107.6" fill="#08358f"/>
<ellipse cx="1646" cy="2493.8" rx="314.0" ry="105.1" fill="#0a42ae"/>
<path d="M1960.0 2492.5L1958.8 2501.6L1955.2 2510.6L1949.3 2519.5L1941.1 2528.2L1930.6 2536.7L1917.9 2544.8L1903.2 2552.4L1886.5 2559.7L1868.0 2566.4L1847.8 2572.6L1826.1 2578.1L1803.0 2583.0L1778.7 2587.2L1753.4 2590.7L1727.3 2593.4L1700.5 2595.4L1673.4 2596.6L1646.0 2597.0L1618.6 2596.6L1591.5 2595.4L1564.7 2593.4L1538.6 2590.7L1513.3 2587.2L1489.0 2583.0L1465.9 2578.1L1444.2 2572.6L1424.0 2566.4L1405.5 2559.7L1388.8 2552.4L1374.1 2544.8L1361.4 2536.7L1350.9 2528.2L1342.7 2519.5L1336.8 2510.6L1333.2 2501.6L1332.0 2492.5L1333.2 2483.3L1336.8 2474.1L1342.7 2465.1L1350.9 2456.2L1361.4 2447.7L1374.1 2439.5L1388.8 2431.7L1405.5 2424.4L1424.0 2417.5L1444.2 2411.3L1465.9 2405.7L1489.0 2400.7L1513.3 2396.4L1538.6 2392.9L1564.7 2390.1L1591.5 2388.1L1618.6 2386.9L1646.0 2386.5L1673.4 2386.9L1700.5 2388.1L1727.3 2390.1L1753.4 2392.9L1778.7 2396.4L1803.0 2400.7L1826.1 2405.7L1847.8 2411.3L1868.0 2417.5L1886.5 2424.4L1903.2 2431.7L1917.9 2439.5L1930.6 2447.7L1941.1 2456.2L1949.3 2465.1L1955.2 2474.1L1958.8 2483.3Z" fill="#0553e4" stroke="#061e6e" stroke-opacity="0.8" stroke-width="2.6"/>
<g clip-path="url(#cc2)"><path d="M1456.0 2356.5L1456.0 2409.8L1464.0 2409.8L1464.0 2415.8L1472.0 2415.8L1472.0 2418.8L1480.0 2418.8L1480.0 2420.7L1488.0 2420.7L1488.0 2421.6L1496.0 2421.6L1496.0 2424.5L1504.0 2424.5L1504.0 2425.4L1512.0 2425.4L1512.0 2425.1L1520.0 2425.1L1520.0 2425.4L1528.0 2425.4L1528.0 2424.9L1536.0 2424.9L1536.0 2424.3L1544.0 2424.3L1544.0 2425.5L1552.0 2425.5L1552.0 2426.2L1560.0 2426.2L1560.0 2424.7L1568.0 2424.7L1568.0 2426.9L1576.0 2426.9L1576.0 2425.2L1584.0 2425.2L1584.0 2425.2L1592.0 2425.2L1592.0 2424.6L1600.0 2424.6L1600.0 2427.5L1608.0 2427.5L1608.0 2426.7L1616.0 2426.7L1616.0 2427.1L1624.0 2427.1L1624.0 2426.3L1632.0 2426.3L1632.0 2424.6L1640.0 2424.6L1640.0 2425.5L1648.0 2425.5L1648.0 2426.0L1656.0 2426.0L1656.0 2424.8L1664.0 2424.8L1664.0 2427.4L1672.0 2427.4L1672.0 2425.6L1680.0 2425.6L1680.0 2425.0L1688.0 2425.0L1688.0 2427.0L1696.0 2427.0L1696.0 2424.9L1704.0 2424.9L1704.0 2427.3L1712.0 2427.3L1712.0 2425.9L1720.0 2425.9L1720.0 2426.2L1728.0 2426.2L1728.0 2425.5L1736.0 2425.5L1736.0 2425.9L1744.0 2425.9L1744.0 2425.0L1752.0 2425.0L1752.0 2424.5L1760.0 2424.5L1760.0 2426.9L1768.0 2426.9L1768.0 2424.9L1776.0 2424.9L1776.0 2426.4L1784.0 2426.4L1784.0 2424.3L1792.0 2424.3L1792.0 2426.2L1800.0 2426.2L1800.0 2425.3L1808.0 2425.3L1808.0 2423.9L1816.0 2423.9L1816.0 2422.5L1824.0 2422.5L1824.0 2420.0L1832.0 2420.0L1832.0 2417.8L1840.0 2417.8L1840.0 2412.4L1848.0 2412.4L1848.0 2356.5Z" fill="#1cc0ee"/><path d="M1464.0 2356.5L1464.0 2410.1L1472.0 2410.1L1472.0 2411.8L1480.0 2411.8L1480.0 2414.7L1488.0 2414.7L1488.0 2420.1L1496.0 2420.1L1496.0 2419.4L1504.0 2419.4L1504.0 2420.5L1512.0 2420.5L1512.0 2423.0L1520.0 2423.0L1520.0 2422.8L1528.0 2422.8L1528.0 2424.9L1536.0 2424.9L1536.0 2423.2L1544.0 2423.2L1544.0 2425.6L1552.0 2425.6L1552.0 2423.8L1560.0 2423.8L1560.0 2424.7L1568.0 2424.7L1568.0 2425.7L1576.0 2425.7L1576.0 2425.0L1584.0 2425.0L1584.0 2425.8L1592.0 2425.8L1592.0 2425.1L1600.0 2425.1L1600.0 2423.1L1608.0 2423.1L1608.0 2425.6L1616.0 2425.6L1616.0 2424.8L1624.0 2424.8L1624.0 2423.9L1632.0 2423.9L1632.0 2423.6L1640.0 2423.6L1640.0 2425.5L1648.0 2425.5L1648.0 2424.7L1656.0 2424.7L1656.0 2425.8L1664.0 2425.8L1664.0 2425.3L1672.0 2425.3L1672.0 2425.9L1680.0 2425.9L1680.0 2424.7L1688.0 2424.7L1688.0 2425.1L1696.0 2425.1L1696.0 2424.8L1704.0 2424.8L1704.0 2423.8L1712.0 2423.8L1712.0 2425.9L1720.0 2425.9L1720.0 2423.9L1728.0 2423.9L1728.0 2425.3L1736.0 2425.3L1736.0 2425.8L1744.0 2425.8L1744.0 2424.8L1752.0 2424.8L1752.0 2423.2L1760.0 2423.2L1760.0 2425.1L1768.0 2425.1L1768.0 2424.3L1776.0 2424.3L1776.0 2422.5L1784.0 2422.5L1784.0 2421.6L1792.0 2421.6L1792.0 2422.2L1800.0 2422.2L1800.0 2419.6L1808.0 2419.6L1808.0 2420.8L1816.0 2420.8L1816.0 2417.5L1824.0 2417.5L1824.0 2414.9L1832.0 2414.9L1832.0 2411.0L1840.0 2411.0L1840.0 2356.5Z" fill="#14e81e"/><ellipse cx="1650" cy="2411" rx="108" ry="11" fill="#a8f80a"/><ellipse cx="1648" cy="2413" rx="84" ry="6" fill="#f0f00a"/><ellipse cx="1650" cy="2414" rx="30" ry="3.2" fill="#ffa80a"/><ellipse cx="1652" cy="2414.5" rx="8" ry="2.5" fill="#f00a0a"/><path d="M1411.0 2627.0L1411.0 2558.6L1419.0 2558.6L1419.0 2558.4L1427.0 2558.4L1427.0 2559.3L1435.0 2559.3L1435.0 2560.6L1443.0 2560.6L1443.0 2561.6L1451.0 2561.6L1451.0 2558.8L1459.0 2558.8L1459.0 2553.5L1467.0 2553.5L1467.0 2554.7L1475.0 2554.7L1475.0 2549.8L1483.0 2549.8L1483.0 2550.4L1491.0 2550.4L1491.0 2547.0L1499.0 2547.0L1499.0 2548.9L1507.0 2548.9L1507.0 2545.9L1515.0 2545.9L1515.0 2547.7L1523.0 2547.7L1523.0 2547.5L1531.0 2547.5L1531.0 2547.4L1539.0 2547.4L1539.0 2546.0L1547.0 2546.0L1547.0 2547.6L1555.0 2547.6L1555.0 2548.0L1563.0 2548.0L1563.0 2544.5L1571.0 2544.5L1571.0 2546.1L1579.0 2546.1L1579.0 2547.8L1587.0 2547.8L1587.0 2547.0L1595.0 2547.0L1595.0 2545.8L1603.0 2545.8L1603.0 2545.2L1611.0 2545.2L1611.0 2547.8L1619.0 2547.8L1619.0 2544.3L1627.0 2544.3L1627.0 2547.0L1635.0 2547.0L1635.0 2547.4L1643.0 2547.4L1643.0 2544.6L1651.0 2544.6L1651.0 2545.3L1659.0 2545.3L1659.0 2545.2L1667.0 2545.2L1667.0 2546.2L1675.0 2546.2L1675.0 2545.5L1683.0 2545.5L1683.0 2547.6L1691.0 2547.6L1691.0 2547.7L1699.0 2547.7L1699.0 2545.3L1707.0 2545.3L1707.0 2547.6L1715.0 2547.6L1715.0 2544.4L1723.0 2544.4L1723.0 2544.5L1731.0 2544.5L1731.0 2546.9L1739.0 2546.9L1739.0 2547.6L1747.0 2547.6L1747.0 2547.9L1755.0 2547.9L1755.0 2548.9L1763.0 2548.9L1763.0 2548.9L1771.0 2548.9L1771.0 2547.1L1779.0 2547.1L1779.0 2549.9L1787.0 2549.9L1787.0 2551.8L1795.0 2551.8L1795.0 2549.9L1803.0 2549.9L1803.0 2553.4L1811.0 2553.4L1811.0 2554.5L1819.0 2554.5L1819.0 2557.5L1827.0 2557.5L1827.0 2562.6L1835.0 2562.6L1835.0 2564.3L1843.0 2564.3L1843.0 2563.1L1851.0 2563.1L1851.0 2562.3L1859.0 2562.3L1859.0 2562.3L1867.0 2562.3L1867.0 2565.4L1869.0 2565.4L1869.0 2627.0Z" fill="#1cc0ee"/><path d="M1424.0 2627.0L1424.0 2563.6L1432.0 2563.6L1432.0 2563.5L1440.0 2563.5L1440.0 2564.4L1448.0 2564.4L1448.0 2565.7L1456.0 2565.7L1456.0 2561.0L1464.0 2561.0L1464.0 2559.9L1472.0 2559.9L1472.0 2556.9L1480.0 2556.9L1480.0 2552.3L1488.0 2552.3L1488.0 2553.3L1496.0 2553.3L1496.0 2551.1L1504.0 2551.1L1504.0 2547.8L1512.0 2547.8L1512.0 2550.8L1520.0 2550.8L1520.0 2547.5L1528.0 2547.5L1528.0 2547.4L1536.0 2547.4L1536.0 2547.6L1544.0 2547.6L1544.0 2548.1L1552.0 2548.1L1552.0 2546.1L1560.0 2546.1L1560.0 2548.3L1568.0 2548.3L1568.0 2548.9L1576.0 2548.9L1576.0 2547.6L1584.0 2547.6L1584.0 2548.7L1592.0 2548.7L1592.0 2548.0L1600.0 2548.0L1600.0 2548.8L1608.0 2548.8L1608.0 2546.2L1616.0 2546.2L1616.0 2546.9L1624.0 2546.9L1624.0 2547.4L1632.0 2547.4L1632.0 2545.9L1640.0 2545.9L1640.0 2549.4L1648.0 2549.4L1648.0 2548.0L1656.0 2548.0L1656.0 2545.9L1664.0 2545.9L1664.0 2547.8L1672.0 2547.8L1672.0 2547.2L1680.0 2547.2L1680.0 2546.3L1688.0 2546.3L1688.0 2546.2L1696.0 2546.2L1696.0 2547.4L1704.0 2547.4L1704.0 2545.8L1712.0 2545.8L1712.0 2547.8L1720.0 2547.8L1720.0 2547.7L1728.0 2547.7L1728.0 2546.3L1736.0 2546.3L1736.0 2549.5L1744.0 2549.5L1744.0 2546.4L1752.0 2546.4L1752.0 2547.4L1760.0 2547.4L1760.0 2550.5L1768.0 2550.5L1768.0 2548.9L1776.0 2548.9L1776.0 2550.8L1784.0 2550.8L1784.0 2552.8L1792.0 2552.8L1792.0 2554.1L1800.0 2554.1L1800.0 2556.8L1808.0 2556.8L1808.0 2559.9L1816.0 2559.9L1816.0 2563.7L1824.0 2563.7L1824.0 2568.6L1832.0 2568.6L1832.0 2567.6L1840.0 2567.6L1840.0 2566.9L1848.0 2566.9L1848.0 2567.3L1856.0 2567.3L1856.0 2627.0Z" fill="#0af0a0"/><path d="M1436.0 2567.9L1444.0 2567.9L1444.0 2568.0L1452.0 2568.0L1452.0 2569.0L1460.0 2569.0L1460.0 2567.9L1468.0 2567.9L1468.0 2561.4L1476.0 2561.4L1476.0 2557.9L1484.0 2557.9L1484.0 2556.8L1492.0 2556.8L1492.0 2552.6L1500.0 2552.6L1500.0 2553.9L1508.0 2553.9L1508.0 2552.7L1516.0 2552.7L1516.0 2549.0L1524.0 2549.0L1524.0 2550.9L1532.0 2550.9L1532.0 2549.8L1540.0 2549.8L1540.0 2550.0L1548.0 2550.0L1548.0 2551.1L1556.0 2551.1L1556.0 2551.1L1564.0 2551.1L1564.0 2548.7L1572.0 2548.7L1572.0 2550.4L1580.0 2550.4L1580.0 2550.2L1588.0 2550.2L1588.0 2550.9L1596.0 2550.9L1596.0 2547.1L1604.0 2547.1L1604.0 2550.8L1612.0 2550.8L1612.0 2547.9L1620.0 2547.9L1620.0 2547.5L1628.0 2547.5L1628.0 2549.4L1636.0 2549.4L1636.0 2550.4L1644.0 2550.4L1644.0 2550.8L1652.0 2550.8L1652.0 2548.5L1660.0 2548.5L1660.0 2550.3L1668.0 2550.3L1668.0 2547.1L1676.0 2547.1L1676.0 2550.9L1684.0 2550.9L1684.0 2548.2L1692.0 2548.2L1692.0 2549.2L1700.0 2549.2L1700.0 2547.5L1708.0 2547.5L1708.0 2547.3L1716.0 2547.3L1716.0 2547.2L1724.0 2547.2L1724.0 2549.7L1732.0 2549.7L1732.0 2549.8L1740.0 2549.8L1740.0 2551.1L1748.0 2551.1L1748.0 2551.8L1756.0 2551.8L1756.0 2550.7L1764.0 2550.7L1764.0 2553.4L1772.0 2553.4L1772.0 2552.1L1780.0 2552.1L1780.0 2556.6L1788.0 2556.6L1788.0 2556.5L1796.0 2556.5L1796.0 2562.3L1804.0 2562.3L1804.0 2564.0L1812.0 2564.0L1812.0 2569.1L1820.0 2569.1L1820.0 2571.8L1828.0 2571.8L1828.0 2571.1L1836.0 2571.1L1836.0 2571.2L1844.0 2571.2L1844.0 2573.6L1836.0 2575.2L1836.0 2575.2L1828.0 2576.8L1828.0 2576.8L1820.0 2578.2L1820.0 2578.2L1812.0 2579.5L1812.0 2579.5L1804.0 2580.7L1804.0 2580.7L1796.0 2581.8L1796.0 2581.8L1788.0 2582.9L1788.0 2582.9L1780.0 2583.8L1780.0 2583.8L1772.0 2584.7L1772.0 2584.7L1764.0 2585.6L1764.0 2585.6L1756.0 2586.3L1756.0 2586.3L1748.0 2587.0L1748.0 2587.0L1740.0 2587.6L1740.0 2587.6L1732.0 2588.2L1732.0 2588.2L1724.0 2588.7L1724.0 2588.7L1716.0 2589.2L1716.0 2589.2L1708.0 2589.6L1708.0 2589.6L1700.0 2590.0L1700.0 2590.0L1692.0 2590.3L1692.0 2590.3L1684.0 2590.5L1684.0 2590.5L1676.0 2590.7L1676.0 2590.7L1668.0 2590.9L1668.0 2590.9L1660.0 2591.0L1660.0 2591.0L1652.0 2591.0L1652.0 2591.0L1644.0 2591.0L1644.0 2591.0L1636.0 2590.9L1636.0 2590.9L1628.0 2590.8L1628.0 2590.8L1620.0 2590.7L1620.0 2590.7L1612.0 2590.5L1612.0 2590.5L1604.0 2590.2L1604.0 2590.2L1596.0 2589.9L1596.0 2589.9L1588.0 2589.6L1588.0 2589.6L1580.0 2589.2L1580.0 2589.2L1572.0 2588.7L1572.0 2588.7L1564.0 2588.2L1564.0 2588.2L1556.0 2587.6L1556.0 2587.6L1548.0 2587.0L1548.0 2587.0L1540.0 2586.3L1540.0 2586.3L1532.0 2585.6L1532.0 2585.6L1524.0 2584.7L1524.0 2584.7L1516.0 2583.8L1516.0 2583.8L1508.0 2582.9L1508.0 2582.9L1500.0 2581.8L1500.0 2581.8L1492.0 2580.7L1492.0 2580.7L1484.0 2579.5L1484.0 2579.5L1476.0 2578.2L1476.0 2578.2L1468.0 2576.9L1468.0 2576.9L1460.0 2575.4L1460.0 2575.4L1452.0 2573.8L1452.0 2573.8L1444.0 2572.0L1444.0 2572.0L1436.0 2570.2Z" fill="#14e81e"/><ellipse cx="1642" cy="2563" rx="118" ry="13" fill="#a8f80a"/><ellipse cx="1644" cy="2561" rx="82" ry="5.5" fill="#f0f00a"/><ellipse cx="1640" cy="2560" rx="30" ry="3.2" fill="#ffa80a"/><ellipse cx="1636" cy="2559" rx="8" ry="2.6" fill="#f00a0a"/></g>
<defs><linearGradient id="cg3" x1="0" x2="1" y1="0" y2="0"><stop offset="0" stop-color="#0c7ab2"/><stop offset="0.3" stop-color="#0aa0e0" stop-opacity="0.0"/><stop offset="0.55" stop-color="#0a6592" stop-opacity="0.35"/><stop offset="1" stop-color="#0a6592" stop-opacity="0.25"/></linearGradient><clipPath id="cc3"><path d="M1338.5 3160.0L1337.4 3168.2L1334.1 3176.4L1328.6 3184.5L1321.0 3192.3L1311.4 3199.9L1299.7 3207.2L1286.1 3214.2L1270.8 3220.7L1253.7 3226.8L1235.1 3232.4L1215.1 3237.4L1193.8 3241.8L1171.3 3245.6L1148.0 3248.8L1123.9 3251.3L1099.3 3253.1L1074.2 3254.1L1049.0 3254.5L1023.8 3254.1L998.7 3253.1L974.1 3251.3L950.0 3248.8L926.7 3245.6L904.2 3241.8L882.9 3237.4L862.9 3232.4L844.3 3226.8L827.2 3220.7L811.9 3214.2L798.3 3207.2L786.6 3199.9L777.0 3192.3L769.4 3184.5L763.9 3176.4L760.6 3168.2L759.5 3160.0L760.6 3151.6L763.9 3143.3L769.4 3135.1L777.0 3127.1L786.6 3119.4L798.3 3111.9L811.9 3104.9L827.2 3098.2L844.3 3092.0L862.9 3086.4L882.9 3081.3L904.2 3076.8L926.7 3072.9L950.0 3069.7L974.1 3067.2L998.7 3065.4L1023.8 3064.3L1049.0 3063.9L1074.2 3064.3L1099.3 3065.4L1123.9 3067.2L1148.0 3069.7L1171.3 3072.9L1193.7 3076.8L1215.1 3081.3L1235.1 3086.4L1253.7 3092.0L1270.8 3098.2L1286.1 3104.9L1299.7 3111.9L1311.4 3119.4L1321.0 3127.1L1328.6 3135.1L1334.1 3143.3L1337.4 3151.6Z"/></clipPath><clipPath id="cb3"><path d="M781.8 3202.9Q864.4 3283.9 962 3346C1010.4 3371.5 1010.4 3371.5 1050 3371.5C1088.2 3371.5 1088.2 3371.5 1135 3346Q1233.0 3283.9 1316.2 3202.9L1049 3160Z"/></clipPath></defs>
<path d="M781.8 3202.9Q864.4 3283.9 962 3346C1010.4 3371.5 1010.4 3371.5 1050 3371.5C1088.2 3371.5 1088.2 3371.5 1135 3346Q1233.0 3283.9 1316.2 3202.9L1049 3160Z" fill="#0c7ab2"/>
<path d="M781.8 3202.9Q864.4 3283.9 962 3346C1010.4 3371.5 1010.4 3371.5 1050 3371.5C1088.2 3371.5 1088.2 3371.5 1135 3346Q1233.0 3283.9 1316.2 3202.9L1049 3160Z" fill="url(#cg3)"/>
<g clip-path="url(#cb3)"><path d="M840.0 3242.4L856.9 3247.9L873.8 3252.7L890.6 3256.8L907.5 3260.3L924.4 3263.3L941.2 3265.8L958.1 3268.0L975.0 3269.7L991.9 3271.0L1008.8 3272.0L1025.6 3272.7L1042.5 3273.0L1059.4 3272.9L1076.2 3272.6L1093.1 3271.8L1110.0 3270.8L1126.9 3269.3L1143.8 3267.5L1160.6 3265.3L1177.5 3262.6L1194.4 3259.5L1211.2 3255.9L1228.1 3251.6L1245.0 3246.7" fill="none" stroke="#12a8b4" stroke-opacity="0.75" stroke-width="15" stroke-linecap="round"/><path d="M965 3277q80 10 150 0" fill="none" stroke="#1cc882" stroke-opacity="0.8" stroke-width="8" stroke-linecap="round"/><path d="M985 3352q64 16 128 0" fill="none" stroke="#12a8b4" stroke-opacity="0.7" stroke-width="7" stroke-linecap="round"/></g>
<ellipse cx="1049" cy="3161.9" rx="292.0" ry="101.5" fill="#0a6592"/>
<ellipse cx="1049" cy="3161.9" rx="292.0" ry="99.0" fill="#0aa0e0"/>
<ellipse cx="1049" cy="3161.1" rx="292.0" ry="99.5" fill="#0a6592"/>
<ellipse cx="1049" cy="3161.1" rx="292.0" ry="97.0" fill="#0c7ab2"/>
<path d="M1341.0 3160.0L1339.9 3168.5L1336.6 3176.8L1331.1 3185.1L1323.4 3193.2L1313.6 3201.0L1301.9 3208.5L1288.2 3215.6L1272.7 3222.4L1255.5 3228.6L1236.7 3234.3L1216.5 3239.5L1195.0 3244.0L1172.4 3247.9L1148.9 3251.2L1124.6 3253.7L1099.7 3255.5L1074.4 3256.6L1049.0 3257.0L1023.6 3256.6L998.3 3255.5L973.4 3253.7L949.1 3251.2L925.6 3247.9L903.0 3244.0L881.5 3239.5L861.3 3234.3L842.5 3228.6L825.3 3222.4L809.8 3215.6L796.1 3208.5L784.4 3201.0L774.6 3193.2L766.9 3185.1L761.4 3176.8L758.1 3168.5L757.0 3160.0L758.1 3151.4L761.4 3142.9L766.9 3134.5L774.6 3126.3L784.4 3118.3L796.1 3110.7L809.8 3103.4L825.3 3096.6L842.5 3090.3L861.3 3084.5L881.5 3079.2L903.0 3074.6L925.6 3070.6L949.1 3067.3L973.4 3064.8L998.3 3062.9L1023.6 3061.8L1049.0 3061.4L1074.4 3061.8L1099.7 3062.9L1124.6 3064.8L1148.9 3067.3L1172.4 3070.6L1195.0 3074.6L1216.5 3079.2L1236.7 3084.5L1255.5 3090.3L1272.7 3096.6L1288.2 3103.4L1301.9 3110.7L1313.6 3118.3L1323.4 3126.3L1331.1 3134.5L1336.6 3142.9L1339.9 3151.4Z" fill="#0aa0e0" stroke="#061e6e" stroke-opacity="0.8" stroke-width="2.6"/>
<g clip-path="url(#cc3)"><path d="M870.0 3031.4L870.0 3082.9L878.0 3082.9L878.0 3086.7L886.0 3086.7L886.0 3090.1L894.0 3090.1L894.0 3092.8L902.0 3092.8L902.0 3092.5L910.0 3092.5L910.0 3093.3L918.0 3093.3L918.0 3094.2L926.0 3094.2L926.0 3096.2L934.0 3096.2L934.0 3094.6L942.0 3094.6L942.0 3096.5L950.0 3096.5L950.0 3096.4L958.0 3096.4L958.0 3094.9L966.0 3094.9L966.0 3096.1L974.0 3096.1L974.0 3095.8L982.0 3095.8L982.0 3095.7L990.0 3095.7L990.0 3097.5L998.0 3097.5L998.0 3094.8L1006.0 3094.8L1006.0 3094.6L1014.0 3094.6L1014.0 3097.3L1022.0 3097.3L1022.0 3095.7L1030.0 3095.7L1030.0 3095.1L1038.0 3095.1L1038.0 3095.5L1046.0 3095.5L1046.0 3095.6L1054.0 3095.6L1054.0 3097.4L1062.0 3097.4L1062.0 3095.1L1070.0 3095.1L1070.0 3095.2L1078.0 3095.2L1078.0 3096.3L1086.0 3096.3L1086.0 3096.1L1094.0 3096.1L1094.0 3097.4L1102.0 3097.4L1102.0 3097.0L1110.0 3097.0L1110.0 3095.6L1118.0 3095.6L1118.0 3095.1L1126.0 3095.1L1126.0 3097.0L1134.0 3097.0L1134.0 3097.4L1142.0 3097.4L1142.0 3094.5L1150.0 3094.5L1150.0 3096.6L1158.0 3096.6L1158.0 3096.9L1166.0 3096.9L1166.0 3096.2L1174.0 3096.2L1174.0 3094.7L1182.0 3094.7L1182.0 3096.1L1190.0 3096.1L1190.0 3095.4L1198.0 3095.4L1198.0 3093.1L1206.0 3093.1L1206.0 3093.4L1214.0 3093.4L1214.0 3090.7L1222.0 3090.7L1222.0 3088.1L1230.0 3088.1L1230.0 3086.1L1238.0 3086.1L1238.0 3031.4Z" fill="#0af0a0"/><path d="M878.0 3031.4L878.0 3081.0L886.0 3081.0L886.0 3084.8L894.0 3084.8L894.0 3087.7L902.0 3087.7L902.0 3091.4L910.0 3091.4L910.0 3091.6L918.0 3091.6L918.0 3093.2L926.0 3093.2L926.0 3092.1L934.0 3092.1L934.0 3093.7L942.0 3093.7L942.0 3095.1L950.0 3095.1L950.0 3094.3L958.0 3094.3L958.0 3095.7L966.0 3095.7L966.0 3095.6L974.0 3095.6L974.0 3094.1L982.0 3094.1L982.0 3093.0L990.0 3093.0L990.0 3095.3L998.0 3095.3L998.0 3093.4L1006.0 3093.4L1006.0 3093.0L1014.0 3093.0L1014.0 3095.2L1022.0 3095.2L1022.0 3095.5L1030.0 3095.5L1030.0 3095.5L1038.0 3095.5L1038.0 3095.9L1046.0 3095.9L1046.0 3093.6L1054.0 3093.6L1054.0 3093.2L1062.0 3093.2L1062.0 3093.4L1070.0 3093.4L1070.0 3095.9L1078.0 3095.9L1078.0 3093.3L1086.0 3093.3L1086.0 3093.5L1094.0 3093.5L1094.0 3093.1L1102.0 3093.1L1102.0 3093.1L1110.0 3093.1L1110.0 3093.1L1118.0 3093.1L1118.0 3094.0L1126.0 3094.0L1126.0 3093.5L1134.0 3093.5L1134.0 3093.9L1142.0 3093.9L1142.0 3095.7L1150.0 3095.7L1150.0 3093.3L1158.0 3093.3L1158.0 3095.1L1166.0 3095.1L1166.0 3094.6L1174.0 3094.6L1174.0 3093.7L1182.0 3093.7L1182.0 3093.1L1190.0 3093.1L1190.0 3092.9L1198.0 3092.9L1198.0 3091.2L1206.0 3091.2L1206.0 3088.6L1214.0 3088.6L1214.0 3086.7L1222.0 3086.7L1222.0 3083.6L1230.0 3083.6L1230.0 3031.4Z" fill="#a8f80a"/><path d="M904.0 3077.3L912.0 3077.3L912.0 3081.9L920.0 3081.9L920.0 3085.7L928.0 3085.7L928.0 3087.1L936.0 3087.1L936.0 3089.6L944.0 3089.6L944.0 3091.4L952.0 3091.4L952.0 3092.3L960.0 3092.3L960.0 3091.5L968.0 3091.5L968.0 3092.8L976.0 3092.8L976.0 3092.9L984.0 3092.9L984.0 3092.9L992.0 3092.9L992.0 3093.9L1000.0 3093.9L1000.0 3093.0L1008.0 3093.0L1008.0 3092.9L1016.0 3092.9L1016.0 3093.9L1024.0 3093.9L1024.0 3093.3L1032.0 3093.3L1032.0 3092.6L1040.0 3092.6L1040.0 3092.6L1048.0 3092.6L1048.0 3093.0L1056.0 3093.0L1056.0 3092.1L1064.0 3092.1L1064.0 3093.2L1072.0 3093.2L1072.0 3093.5L1080.0 3093.5L1080.0 3092.9L1088.0 3092.9L1088.0 3093.7L1096.0 3093.7L1096.0 3093.8L1104.0 3093.8L1104.0 3093.1L1112.0 3093.1L1112.0 3093.3L1120.0 3093.3L1120.0 3092.1L1128.0 3092.1L1128.0 3091.9L1136.0 3091.9L1136.0 3093.5L1144.0 3093.5L1144.0 3091.8L1152.0 3091.8L1152.0 3091.2L1160.0 3091.2L1160.0 3091.8L1168.0 3091.8L1168.0 3090.4L1176.0 3090.4L1176.0 3087.6L1184.0 3087.6L1184.0 3085.9L1192.0 3085.9L1192.0 3082.9L1200.0 3082.9L1200.0 3079.2L1208.0 3079.2L1208.0 3077.3L1200.0 3075.8L1200.0 3075.8L1192.0 3074.4L1192.0 3074.4L1184.0 3073.2L1184.0 3073.2L1176.0 3072.0L1176.0 3072.0L1168.0 3070.9L1168.0 3070.9L1160.0 3069.9L1160.0 3069.9L1152.0 3068.9L1152.0 3068.9L1144.0 3068.1L1144.0 3068.1L1136.0 3067.3L1136.0 3067.3L1128.0 3066.6L1128.0 3066.6L1120.0 3066.0L1120.0 3066.0L1112.0 3065.5L1112.0 3065.5L1104.0 3065.0L1104.0 3065.0L1096.0 3064.5L1096.0 3064.5L1088.0 3064.2L1088.0 3064.2L1080.0 3063.9L1080.0 3063.9L1072.0 3063.7L1072.0 3063.7L1064.0 3063.5L1064.0 3063.5L1056.0 3063.4L1056.0 3063.4L1048.0 3063.4L1048.0 3063.4L1040.0 3063.4L1040.0 3063.4L1032.0 3063.5L1032.0 3063.5L1024.0 3063.7L1024.0 3063.7L1016.0 3063.9L1016.0 3063.9L1008.0 3064.2L1008.0 3064.2L1000.0 3064.5L1000.0 3064.5L992.0 3064.9L992.0 3064.9L984.0 3065.4L984.0 3065.4L976.0 3066.0L976.0 3066.0L968.0 3066.6L968.0 3066.6L960.0 3067.3L960.0 3067.3L952.0 3068.1L952.0 3068.1L944.0 3068.9L944.0 3068.9L936.0 3069.8L936.0 3069.8L928.0 3070.8L928.0 3070.8L920.0 3071.9L920.0 3071.9L912.0 3073.1L912.0 3073.1L904.0 3074.4Z" fill="#ffa80a"/><ellipse cx="1054" cy="3083" rx="100" ry="9.5" fill="#f5500a"/><ellipse cx="1054" cy="3087.5" rx="60" ry="3.5" fill="#f00a0a"/><path d="M828.0 3287.0L828.0 3218.9L836.0 3218.9L836.0 3218.0L844.0 3218.0L844.0 3218.6L852.0 3218.6L852.0 3219.7L860.0 3219.7L860.0 3221.0L868.0 3221.0L868.0 3219.2L876.0 3219.2L876.0 3217.5L884.0 3217.5L884.0 3215.5L892.0 3215.5L892.0 3214.5L900.0 3214.5L900.0 3211.0L908.0 3211.0L908.0 3212.9L916.0 3212.9L916.0 3210.6L924.0 3210.6L924.0 3210.9L932.0 3210.9L932.0 3210.6L940.0 3210.6L940.0 3211.1L948.0 3211.1L948.0 3208.3L956.0 3208.3L956.0 3208.6L964.0 3208.6L964.0 3209.9L972.0 3209.9L972.0 3209.4L980.0 3209.4L980.0 3210.0L988.0 3210.0L988.0 3208.5L996.0 3208.5L996.0 3210.8L1004.0 3210.8L1004.0 3207.0L1012.0 3207.0L1012.0 3209.9L1020.0 3209.9L1020.0 3208.5L1028.0 3208.5L1028.0 3207.1L1036.0 3207.1L1036.0 3209.7L1044.0 3209.7L1044.0 3207.2L1052.0 3207.2L1052.0 3207.9L1060.0 3207.9L1060.0 3208.3L1068.0 3208.3L1068.0 3207.6L1076.0 3207.6L1076.0 3207.7L1084.0 3207.7L1084.0 3207.3L1092.0 3207.3L1092.0 3210.4L1100.0 3210.4L1100.0 3207.4L1108.0 3207.4L1108.0 3207.7L1116.0 3207.7L1116.0 3207.4L1124.0 3207.4L1124.0 3210.9L1132.0 3210.9L1132.0 3209.6L1140.0 3209.6L1140.0 3210.9L1148.0 3210.9L1148.0 3211.8L1156.0 3211.8L1156.0 3210.4L1164.0 3210.4L1164.0 3210.7L1172.0 3210.7L1172.0 3211.6L1180.0 3211.6L1180.0 3212.4L1188.0 3212.4L1188.0 3215.5L1196.0 3215.5L1196.0 3219.2L1204.0 3219.2L1204.0 3220.2L1212.0 3220.2L1212.0 3224.8L1220.0 3224.8L1220.0 3224.0L1228.0 3224.0L1228.0 3223.1L1236.0 3223.1L1236.0 3222.5L1244.0 3222.5L1244.0 3222.8L1252.0 3222.8L1252.0 3228.4L1256.0 3228.4L1256.0 3287.0Z" fill="#0af0a0"/><path d="M837.0 3223.1L845.0 3223.1L845.0 3222.6L853.0 3222.6L853.0 3223.4L861.0 3223.4L861.0 3224.5L869.0 3224.5L869.0 3224.5L877.0 3224.5L877.0 3223.5L885.0 3223.5L885.0 3220.6L893.0 3220.6L893.0 3218.3L901.0 3218.3L901.0 3216.2L909.0 3216.2L909.0 3215.3L917.0 3215.3L917.0 3210.9L925.0 3210.9L925.0 3212.8L933.0 3212.8L933.0 3210.8L941.0 3210.8L941.0 3212.4L949.0 3212.4L949.0 3211.0L957.0 3211.0L957.0 3211.4L965.0 3211.4L965.0 3211.3L973.0 3211.3L973.0 3211.4L981.0 3211.4L981.0 3212.3L989.0 3212.3L989.0 3212.9L997.0 3212.9L997.0 3210.4L1005.0 3210.4L1005.0 3212.2L1013.0 3212.2L1013.0 3212.6L1021.0 3212.6L1021.0 3210.6L1029.0 3210.6L1029.0 3209.5L1037.0 3209.5L1037.0 3211.0L1045.0 3211.0L1045.0 3212.1L1053.0 3212.1L1053.0 3211.1L1061.0 3211.1L1061.0 3209.7L1069.0 3209.7L1069.0 3211.8L1077.0 3211.8L1077.0 3210.3L1085.0 3210.3L1085.0 3212.6L1093.0 3212.6L1093.0 3209.7L1101.0 3209.7L1101.0 3211.4L1109.0 3211.4L1109.0 3210.6L1117.0 3210.6L1117.0 3213.1L1125.0 3213.1L1125.0 3209.9L1133.0 3209.9L1133.0 3213.1L1141.0 3213.1L1141.0 3211.6L1149.0 3211.6L1149.0 3211.9L1157.0 3211.9L1157.0 3212.0L1165.0 3212.0L1165.0 3214.1L1173.0 3214.1L1173.0 3217.2L1181.0 3217.2L1181.0 3219.4L1189.0 3219.4L1189.0 3221.6L1197.0 3221.6L1197.0 3223.5L1205.0 3223.5L1205.0 3226.1L1213.0 3226.1L1213.0 3228.3L1221.0 3228.3L1221.0 3227.4L1229.0 3227.4L1229.0 3226.8L1237.0 3226.8L1237.0 3227.1L1245.0 3227.1L1245.0 3230.7L1247.0 3230.7L1247.0 3231.3L1245.0 3231.8L1245.0 3231.8L1237.0 3233.9L1237.0 3233.9L1229.0 3235.9L1229.0 3235.9L1221.0 3237.7L1221.0 3237.7L1213.0 3239.3L1213.0 3239.3L1205.0 3240.9L1205.0 3240.9L1197.0 3242.3L1197.0 3242.3L1189.0 3243.7L1189.0 3243.7L1181.0 3244.9L1181.0 3244.9L1173.0 3246.0L1173.0 3246.0L1165.0 3247.1L1165.0 3247.1L1157.0 3248.1L1157.0 3248.1L1149.0 3249.0L1149.0 3249.0L1141.0 3249.8L1141.0 3249.8L1133.0 3250.5L1133.0 3250.5L1125.0 3251.1L1125.0 3251.1L1117.0 3251.7L1117.0 3251.7L1109.0 3252.3L1109.0 3252.3L1101.0 3252.7L1101.0 3252.7L1093.0 3253.1L1093.0 3253.1L1085.0 3253.4L1085.0 3253.4L1077.0 3253.6L1077.0 3253.6L1069.0 3253.8L1069.0 3253.8L1061.0 3253.9L1061.0 3253.9L1053.0 3254.0L1053.0 3254.0L1045.0 3254.0L1045.0 3254.0L1037.0 3253.9L1037.0 3253.9L1029.0 3253.8L1029.0 3253.8L1021.0 3253.6L1021.0 3253.6L1013.0 3253.3L1013.0 3253.3L1005.0 3253.0L1005.0 3253.0L997.0 3252.6L997.0 3252.6L989.0 3252.1L989.0 3252.1L981.0 3251.6L981.0 3251.6L973.0 3251.0L973.0 3251.0L965.0 3250.3L965.0 3250.3L957.0 3249.6L957.0 3249.6L949.0 3248.8L949.0 3248.8L941.0 3247.8L941.0 3247.8L933.0 3246.9L933.0 3246.9L925.0 3245.8L925.0 3245.8L917.0 3244.6L917.0 3244.6L909.0 3243.4L909.0 3243.4L901.0 3242.0L901.0 3242.0L893.0 3240.6L893.0 3240.6L885.0 3239.0L885.0 3239.0L877.0 3237.3L877.0 3237.3L869.0 3235.5L869.0 3235.5L861.0 3233.6L861.0 3233.6L853.0 3231.5L853.0 3231.5L845.0 3229.2L845.0 3229.2L837.0 3226.7Z" fill="#a8f80a"/><path d="M860.0 3231.1L868.0 3231.1L868.0 3230.7L876.0 3230.7L876.0 3231.4L884.0 3231.4L884.0 3231.3L892.0 3231.3L892.0 3224.8L900.0 3224.8L900.0 3222.7L908.0 3222.7L908.0 3220.6L916.0 3220.6L916.0 3218.6L924.0 3218.6L924.0 3216.1L932.0 3216.1L932.0 3215.4L940.0 3215.4L940.0 3213.9L948.0 3213.9L948.0 3213.9L956.0 3213.9L956.0 3212.3L964.0 3212.3L964.0 3213.8L972.0 3213.8L972.0 3213.4L980.0 3213.4L980.0 3212.4L988.0 3212.4L988.0 3212.7L996.0 3212.7L996.0 3213.7L1004.0 3213.7L1004.0 3212.8L1012.0 3212.8L1012.0 3214.4L1020.0 3214.4L1020.0 3214.4L1028.0 3214.4L1028.0 3214.0L1036.0 3214.0L1036.0 3211.8L1044.0 3211.8L1044.0 3211.7L1052.0 3211.7L1052.0 3212.4L1060.0 3212.4L1060.0 3212.6L1068.0 3212.6L1068.0 3213.6L1076.0 3213.6L1076.0 3214.0L1084.0 3214.0L1084.0 3213.2L1092.0 3213.2L1092.0 3213.4L1100.0 3213.4L1100.0 3213.3L1108.0 3213.3L1108.0 3211.7L1116.0 3211.7L1116.0 3213.3L1124.0 3213.3L1124.0 3212.5L1132.0 3212.5L1132.0 3213.4L1140.0 3213.4L1140.0 3212.6L1148.0 3212.6L1148.0 3215.2L1156.0 3215.2L1156.0 3216.9L1164.0 3216.9L1164.0 3215.7L1172.0 3215.7L1172.0 3219.1L1180.0 3219.1L1180.0 3220.0L1188.0 3220.0L1188.0 3224.3L1196.0 3224.3L1196.0 3228.2L1204.0 3228.2L1204.0 3233.2L1212.0 3233.2L1212.0 3232.4L1220.0 3232.4L1220.0 3232.2L1228.0 3232.2L1228.0 3235.6L1232.0 3235.6L1232.0 3235.6L1228.0 3236.3L1228.0 3236.3L1220.0 3237.5L1220.0 3237.5L1212.0 3238.6L1212.0 3238.6L1204.0 3239.7L1204.0 3239.7L1196.0 3240.7L1196.0 3240.7L1188.0 3241.6L1188.0 3241.6L1180.0 3242.4L1180.0 3242.4L1172.0 3243.1L1172.0 3243.1L1164.0 3243.8L1164.0 3243.8L1156.0 3244.4L1156.0 3244.4L1148.0 3245.0L1148.0 3245.0L1140.0 3245.5L1140.0 3245.5L1132.0 3245.9L1132.0 3245.9L1124.0 3246.3L1124.0 3246.3L1116.0 3246.7L1116.0 3246.7L1108.0 3247.0L1108.0 3247.0L1100.0 3247.3L1100.0 3247.3L1092.0 3247.5L1092.0 3247.5L1084.0 3247.7L1084.0 3247.7L1076.0 3247.8L1076.0 3247.8L1068.0 3247.9L1068.0 3247.9L1060.0 3248.0L1060.0 3248.0L1052.0 3248.0L1052.0 3248.0L1044.0 3248.0L1044.0 3248.0L1036.0 3247.9L1036.0 3247.9L1028.0 3247.8L1028.0 3247.8L1020.0 3247.7L1020.0 3247.7L1012.0 3247.5L1012.0 3247.5L1004.0 3247.3L1004.0 3247.3L996.0 3247.0L996.0 3247.0L988.0 3246.7L988.0 3246.7L980.0 3246.4L980.0 3246.4L972.0 3246.0L972.0 3246.0L964.0 3245.5L964.0 3245.5L956.0 3245.1L956.0 3245.1L948.0 3244.5L948.0 3244.5L940.0 3243.9L940.0 3243.9L932.0 3243.3L932.0 3243.3L924.0 3242.5L924.0 3242.5L916.0 3241.8L916.0 3241.8L908.0 3240.9L908.0 3240.9L900.0 3240.0L900.0 3240.0L892.0 3239.0L892.0 3239.0L884.0 3237.9L884.0 3237.9L876.0 3236.7L876.0 3236.7L868.0 3235.4L868.0 3235.4L860.0 3233.9Z" fill="#ffa80a"/><path d="M936 3229q30 -17 112 -17t126 17q-40 8 -120 8t-118 -8z" fill="#f5500a"/><path d="M971 3221q35 -8 70 -6t69 4q-30 6 -70 6t-69 -4z" fill="#f00a0a"/></g>
<clipPath id="clA"><rect x="236.7" y="15.299999999999997" width="2100" height="1663.9"/></clipPath>
<path d="M223.4 1687.0L237.0 1663.0L250.6 1687.0ZM235.5 1685.3L249.1 1661.3L262.7 1685.3ZM247.5 1683.6L261.1 1659.6L274.7 1683.6ZM259.6 1681.8L273.2 1657.8L286.8 1681.8ZM271.7 1680.1L285.3 1656.1L298.9 1680.1ZM283.8 1678.4L297.4 1654.4L311.0 1678.4ZM295.8 1676.7L309.4 1652.7L323.0 1676.7ZM307.9 1675.1L321.5 1651.1L335.1 1675.1ZM320.0 1673.5L333.6 1649.5L347.2 1673.5ZM332.0 1671.8L345.6 1647.8L359.2 1671.8ZM344.1 1670.2L357.7 1646.2L371.3 1670.2ZM356.2 1668.6L369.8 1644.6L383.4 1668.6ZM368.2 1667.0L381.8 1643.0L395.4 1667.0ZM380.3 1665.3L393.9 1641.3L407.5 1665.3ZM392.4 1663.7L406.0 1639.7L419.6 1663.7ZM404.4 1662.0L418.1 1638.0L431.7 1662.0ZM416.5 1660.4L430.1 1636.4L443.7 1660.4ZM428.6 1658.7L442.2 1634.7L455.8 1658.7ZM440.7 1657.1L454.3 1633.1L467.9 1657.1ZM452.7 1655.4L466.3 1631.4L479.9 1655.4ZM464.8 1653.8L478.4 1629.8L492.0 1653.8ZM476.9 1652.1L490.5 1628.1L504.1 1652.1ZM488.9 1650.5L502.5 1626.5L516.1 1650.5ZM501.0 1648.8L514.6 1624.8L528.2 1648.8ZM513.1 1647.2L526.7 1623.2L540.3 1647.2ZM525.1 1645.5L538.8 1621.5L552.4 1645.5ZM537.2 1643.9L550.8 1619.9L564.4 1643.9ZM549.3 1642.2L562.9 1618.2L576.5 1642.2ZM561.4 1640.5L575.0 1616.5L588.6 1640.5ZM573.4 1638.4L587.0 1614.4L600.6 1638.4ZM585.5 1636.3L599.1 1612.3L612.7 1636.3ZM597.6 1634.3L611.2 1610.3L624.8 1634.3ZM609.6 1632.2L623.2 1608.2L636.8 1632.2ZM621.7 1630.1L635.3 1606.1L648.9 1630.1ZM633.8 1628.0L647.4 1604.0L661.0 1628.0ZM645.9 1626.0L659.5 1602.0L673.1 1626.0ZM657.9 1623.9L671.5 1599.9L685.1 1623.9ZM670.0 1621.8L683.6 1597.8L697.2 1621.8ZM682.1 1619.7L695.7 1595.7L709.3 1619.7ZM694.1 1617.6L707.7 1593.6L721.3 1617.6ZM706.2 1615.5L719.8 1591.5L733.4 1615.5ZM718.3 1613.3L731.9 1589.3L745.5 1613.3ZM730.3 1611.1L743.9 1587.1L757.5 1611.1ZM742.4 1609.0L756.0 1585.0L769.6 1609.0ZM754.5 1606.8L768.1 1582.8L781.7 1606.8ZM766.5 1604.7L780.1 1580.7L793.8 1604.7ZM778.6 1602.5L792.2 1578.5L805.8 1602.5ZM790.7 1600.3L804.3 1576.3L817.9 1600.3ZM802.8 1598.2L816.4 1574.2L830.0 1598.2ZM814.8 1596.3L828.4 1572.3L842.0 1596.3ZM826.9 1594.6L840.5 1570.6L854.1 1594.6ZM839.0 1593.0L852.6 1569.0L866.2 1593.0ZM851.0 1591.3L864.6 1567.3L878.2 1591.3ZM863.1 1589.7L876.7 1565.7L890.3 1589.7ZM875.2 1588.1L888.8 1564.1L902.4 1588.1ZM887.2 1587.3L900.9 1563.3L914.5 1587.3ZM899.3 1587.0L912.9 1563.0L926.5 1587.0ZM911.4 1584.6L925.0 1560.6L938.6 1584.6ZM923.5 1581.8L937.1 1557.8L950.7 1581.8ZM935.5 1579.0L949.1 1555.0L962.7 1579.0ZM947.6 1576.1L961.2 1552.1L974.8 1576.1ZM959.7 1573.3L973.3 1549.3L986.9 1573.3ZM971.7 1570.4L985.3 1546.4L998.9 1570.4ZM983.8 1567.6L997.4 1543.6L1011.0 1567.6ZM995.9 1564.8L1009.5 1540.8L1023.1 1564.8ZM1008.0 1561.9L1021.6 1537.9L1035.2 1561.9ZM1020.0 1559.0L1033.6 1535.0L1047.2 1559.0ZM1032.1 1556.2L1045.7 1532.2L1059.3 1556.2ZM1044.2 1553.3L1057.8 1529.3L1071.4 1553.3ZM1056.2 1550.4L1069.8 1526.4L1083.4 1550.4ZM1068.3 1547.6L1081.9 1523.6L1095.5 1547.6ZM1080.4 1544.6L1094.0 1520.6L1107.6 1544.6ZM1092.4 1541.4L1106.0 1517.4L1119.6 1541.4ZM1104.5 1538.3L1118.1 1514.3L1131.7 1538.3ZM1116.6 1535.2L1130.2 1511.2L1143.8 1535.2ZM1128.7 1532.0L1142.2 1508.0L1155.8 1532.0ZM1140.7 1528.9L1154.3 1504.9L1167.9 1528.9ZM1152.8 1525.8L1166.4 1501.8L1180.0 1525.8ZM1164.9 1522.6L1178.5 1498.6L1192.1 1522.6ZM1176.9 1519.1L1190.5 1495.1L1204.1 1519.1ZM1189.0 1515.6L1202.6 1491.6L1216.2 1515.6ZM1201.1 1512.1L1214.7 1488.1L1228.3 1512.1ZM1213.1 1510.5L1226.7 1486.5L1240.3 1510.5ZM1225.2 1510.5L1238.8 1486.5L1252.4 1510.5ZM1237.3 1510.5L1250.9 1486.5L1264.5 1510.5ZM1249.4 1507.3L1263.0 1483.3L1276.5 1507.3ZM1261.4 1503.3L1275.0 1479.3L1288.6 1503.3ZM1273.5 1499.4L1287.1 1475.4L1300.7 1499.4ZM1285.6 1495.5L1299.2 1471.5L1312.8 1495.5ZM1297.6 1491.6L1311.2 1467.6L1324.8 1491.6ZM1309.7 1487.7L1323.3 1463.7L1336.9 1487.7ZM1321.8 1483.7L1335.4 1459.7L1349.0 1483.7ZM1333.8 1479.8L1347.4 1455.8L1361.0 1479.8ZM1345.9 1475.9L1359.5 1451.9L1373.1 1475.9ZM1358.0 1472.0L1371.6 1448.0L1385.2 1472.0ZM1370.1 1468.0L1383.7 1444.0L1397.2 1468.0ZM1382.1 1464.0L1395.7 1440.0L1409.3 1464.0ZM1394.2 1459.6L1407.8 1435.6L1421.4 1459.6ZM1406.3 1455.2L1419.9 1431.2L1433.5 1455.2ZM1418.3 1450.8L1431.9 1426.8L1445.5 1450.8ZM1430.4 1446.4L1444.0 1422.4L1457.6 1446.4ZM1442.5 1442.0L1456.1 1418.0L1469.7 1442.0ZM1454.5 1437.6L1468.1 1413.6L1481.7 1437.6ZM1466.6 1433.2L1480.2 1409.2L1493.8 1433.2ZM1478.7 1428.8L1492.3 1404.8L1505.9 1428.8ZM1490.8 1424.2L1504.4 1400.2L1518.0 1424.2ZM1502.8 1419.1L1516.4 1395.1L1530.0 1419.1ZM1514.9 1414.1L1528.5 1390.1L1542.1 1414.1ZM1527.0 1409.0L1540.6 1385.0L1554.2 1409.0ZM1539.0 1404.0L1552.6 1380.0L1566.2 1404.0ZM1551.1 1401.7L1564.7 1377.7L1578.3 1401.7ZM1563.2 1400.1L1576.8 1376.1L1590.4 1400.1ZM1575.2 1398.5L1588.8 1374.5L1602.4 1398.5ZM1587.3 1396.7L1600.9 1372.7L1614.5 1396.7ZM1599.4 1392.1L1613.0 1368.1L1626.6 1392.1ZM1611.5 1387.6L1625.0 1363.6L1638.6 1387.6ZM1623.5 1382.4L1637.1 1358.4L1650.7 1382.4ZM1635.6 1376.4L1649.2 1352.4L1662.8 1376.4ZM1647.7 1370.4L1661.3 1346.4L1674.9 1370.4ZM1659.7 1364.3L1673.3 1340.3L1686.9 1364.3ZM1671.8 1358.3L1685.4 1334.3L1699.0 1358.3ZM1683.9 1352.3L1697.5 1328.3L1711.1 1352.3ZM1695.9 1346.2L1709.5 1322.2L1723.1 1346.2ZM1708.0 1337.8L1721.6 1313.8L1735.2 1337.8ZM1720.1 1327.9L1733.7 1303.9L1747.3 1327.9ZM1732.2 1318.0L1745.8 1294.0L1759.3 1318.0ZM1744.2 1308.1L1757.8 1284.1L1771.4 1308.1ZM1756.3 1298.3L1769.9 1274.3L1783.5 1298.3ZM1768.4 1288.4L1782.0 1264.4L1795.6 1288.4ZM1780.4 1277.1L1794.0 1253.1L1807.6 1277.1ZM1792.5 1261.7L1806.1 1237.7L1819.7 1261.7ZM1804.6 1248.8L1818.2 1224.8L1831.8 1248.8ZM1816.6 1236.7L1830.2 1212.7L1843.8 1236.7ZM1828.7 1224.6L1842.3 1200.6L1855.9 1224.6ZM1840.8 1212.4L1854.4 1188.4L1868.0 1212.4ZM1852.9 1200.3L1866.5 1176.3L1880.0 1200.3ZM1864.9 1188.2L1878.5 1164.2L1892.1 1188.2ZM1877.0 1184.3L1890.6 1160.3L1904.2 1184.3ZM1889.1 1183.2L1902.7 1159.2L1916.3 1183.2ZM1901.1 1182.2L1914.7 1158.2L1928.3 1182.2ZM1913.2 1181.2L1926.8 1157.2L1940.4 1181.2ZM1927.8 1165.0L1941.4 1141.0L1955.0 1165.0ZM1939.1 1143.7L1952.7 1119.7L1966.3 1143.7ZM1950.9 1122.0L1964.5 1098.0L1978.1 1122.0ZM1962.3 1099.7L1975.9 1075.7L1989.5 1099.7ZM1975.0 1071.0L1988.6 1047.0L2002.2 1071.0ZM1985.9 1043.8L1999.5 1019.8L2013.1 1043.8ZM1999.1 1008.8L2012.7 984.8L2026.3 1008.8ZM2010.2 968.9L2023.8 944.9L2037.4 968.9ZM2023.2 915.3L2036.8 891.3L2050.4 915.3ZM2034.3 856.7L2047.9 832.7L2061.5 856.7ZM2045.9 741.8L2059.5 717.8L2073.1 741.8ZM2058.4 639.6L2072.0 615.6L2085.6 639.6ZM2060.6 336.2L2074.2 312.2L2087.8 336.2ZM237.0 1669.5L249.1 1667.8L249.1 1685.3L237.0 1687.0ZM249.1 1667.8L261.1 1666.1L261.1 1683.6L249.1 1685.3ZM261.1 1666.1L273.2 1664.3L273.2 1681.8L261.1 1683.6ZM273.2 1664.3L285.3 1662.6L285.3 1680.1L273.2 1681.8ZM285.3 1662.6L297.4 1660.9L297.4 1678.4L285.3 1680.1ZM297.4 1660.9L309.4 1659.2L309.4 1676.7L297.4 1678.4ZM309.4 1659.2L321.5 1657.6L321.5 1675.1L309.4 1676.7ZM321.5 1657.6L333.6 1656.0L333.6 1673.5L321.5 1675.1ZM333.6 1656.0L345.6 1654.3L345.6 1671.8L333.6 1673.5ZM345.6 1654.3L357.7 1652.7L357.7 1670.2L345.6 1671.8ZM357.7 1652.7L369.8 1651.1L369.8 1668.6L357.7 1670.2ZM369.8 1651.1L381.8 1649.5L381.8 1667.0L369.8 1668.6ZM381.8 1649.5L393.9 1647.8L393.9 1665.3L381.8 1667.0ZM393.9 1647.8L406.0 1646.2L406.0 1663.7L393.9 1665.3ZM406.0 1646.2L418.1 1644.5L418.1 1662.0L406.0 1663.7ZM418.1 1644.5L430.1 1642.9L430.1 1660.4L418.1 1662.0ZM430.1 1642.9L442.2 1641.2L442.2 1658.7L430.1 1660.4ZM442.2 1641.2L454.3 1639.6L454.3 1657.1L442.2 1658.7ZM454.3 1639.6L466.3 1637.9L466.3 1655.4L454.3 1657.1ZM466.3 1637.9L478.4 1636.3L478.4 1653.8L466.3 1655.4ZM478.4 1636.3L490.5 1634.6L490.5 1652.1L478.4 1653.8ZM490.5 1634.6L502.5 1633.0L502.5 1650.5L490.5 1652.1ZM502.5 1633.0L514.6 1631.3L514.6 1648.8L502.5 1650.5ZM514.6 1631.3L526.7 1629.7L526.7 1647.2L514.6 1648.8ZM526.7 1629.7L538.8 1628.0L538.8 1645.5L526.7 1647.2ZM538.8 1628.0L550.8 1626.4L550.8 1643.9L538.8 1645.5ZM550.8 1626.4L562.9 1624.7L562.9 1642.2L550.8 1643.9ZM562.9 1624.7L575.0 1623.0L575.0 1640.5L562.9 1642.2ZM575.0 1623.0L587.0 1620.9L587.0 1638.4L575.0 1640.5ZM587.0 1620.9L599.1 1618.8L599.1 1636.3L587.0 1638.4ZM599.1 1618.8L611.2 1616.8L611.2 1634.3L599.1 1636.3ZM611.2 1616.8L623.2 1614.7L623.2 1632.2L611.2 1634.3ZM623.2 1614.7L635.3 1612.6L635.3 1630.1L623.2 1632.2ZM635.3 1612.6L647.4 1610.5L647.4 1628.0L635.3 1630.1ZM647.4 1610.5L659.5 1608.5L659.5 1626.0L647.4 1628.0ZM659.5 1608.5L671.5 1606.4L671.5 1623.9L659.5 1626.0ZM671.5 1606.4L683.6 1604.3L683.6 1621.8L671.5 1623.9ZM683.6 1604.3L695.7 1602.2L695.7 1619.7L683.6 1621.8ZM695.7 1602.2L707.7 1600.1L707.7 1617.6L695.7 1619.7ZM707.7 1600.1L719.8 1598.0L719.8 1615.5L707.7 1617.6ZM719.8 1598.0L731.9 1595.8L731.9 1613.3L719.8 1615.5ZM731.9 1595.8L743.9 1593.6L743.9 1611.1L731.9 1613.3ZM743.9 1593.6L756.0 1591.5L756.0 1609.0L743.9 1611.1ZM756.0 1591.5L768.1 1589.3L768.1 1606.8L756.0 1609.0ZM768.1 1589.3L780.1 1587.2L780.1 1604.7L768.1 1606.8ZM780.1 1587.2L792.2 1585.0L792.2 1602.5L780.1 1604.7ZM792.2 1585.0L804.3 1582.8L804.3 1600.3L792.2 1602.5ZM804.3 1582.8L816.4 1580.7L816.4 1598.2L804.3 1600.3ZM816.4 1580.7L828.4 1578.8L828.4 1596.3L816.4 1598.2ZM828.4 1578.8L840.5 1577.1L840.5 1594.6L828.4 1596.3ZM840.5 1577.1L852.6 1575.5L852.6 1593.0L840.5 1594.6ZM852.6 1575.5L864.6 1573.8L864.6 1591.3L852.6 1593.0ZM864.6 1573.8L876.7 1572.2L876.7 1589.7L864.6 1591.3ZM876.7 1572.2L888.8 1570.6L888.8 1588.1L876.7 1589.7ZM888.8 1570.6L900.9 1569.8L900.9 1587.3L888.8 1588.1ZM900.9 1569.8L912.9 1569.5L912.9 1587.0L900.9 1587.3ZM912.9 1569.5L925.0 1567.1L925.0 1584.6L912.9 1587.0ZM925.0 1567.1L937.1 1564.3L937.1 1581.8L925.0 1584.6ZM937.1 1564.3L949.1 1561.5L949.1 1579.0L937.1 1581.8ZM949.1 1561.5L961.2 1558.6L961.2 1576.1L949.1 1579.0ZM961.2 1558.6L973.3 1555.8L973.3 1573.3L961.2 1576.1ZM973.3 1555.8L985.3 1552.9L985.3 1570.4L973.3 1573.3ZM985.3 1552.9L997.4 1550.1L997.4 1567.6L985.3 1570.4ZM997.4 1550.1L1009.5 1547.3L1009.5 1564.8L997.4 1567.6ZM1009.5 1547.3L1021.6 1544.4L1021.6 1561.9L1009.5 1564.8ZM1021.6 1544.4L1033.6 1541.5L1033.6 1559.0L1021.6 1561.9ZM1033.6 1541.5L1045.7 1538.7L1045.7 1556.2L1033.6 1559.0ZM1045.7 1538.7L1057.8 1535.8L1057.8 1553.3L1045.7 1556.2ZM1057.8 1535.8L1069.8 1532.9L1069.8 1550.4L1057.8 1553.3ZM1069.8 1532.9L1081.9 1530.1L1081.9 1547.6L1069.8 1550.4ZM1081.9 1530.1L1094.0 1527.1L1094.0 1544.6L1081.9 1547.6ZM1094.0 1527.1L1106.0 1523.9L1106.0 1541.4L1094.0 1544.6ZM1106.0 1523.9L1118.1 1520.8L1118.1 1538.3L1106.0 1541.4ZM1118.1 1520.8L1130.2 1517.7L1130.2 1535.2L1118.1 1538.3ZM1130.2 1517.7L1142.2 1514.5L1142.2 1532.0L1130.2 1535.2ZM1142.2 1514.5L1154.3 1511.4L1154.3 1528.9L1142.2 1532.0ZM1154.3 1511.4L1166.4 1508.3L1166.4 1525.8L1154.3 1528.9ZM1166.4 1508.3L1178.5 1505.1L1178.5 1522.6L1166.4 1525.8ZM1178.5 1505.1L1190.5 1501.6L1190.5 1519.1L1178.5 1522.6ZM1190.5 1501.6L1202.6 1498.1L1202.6 1515.6L1190.5 1519.1ZM1202.6 1498.1L1214.7 1494.6L1214.7 1512.1L1202.6 1515.6ZM1214.7 1494.6L1226.7 1493.0L1226.7 1510.5L1214.7 1512.1ZM1226.7 1493.0L1238.8 1493.0L1238.8 1510.5L1226.7 1510.5ZM1238.8 1493.0L1250.9 1493.0L1250.9 1510.5L1238.8 1510.5ZM1250.9 1493.0L1263.0 1489.8L1263.0 1507.3L1250.9 1510.5ZM1263.0 1489.8L1275.0 1485.8L1275.0 1503.3L1263.0 1507.3ZM1275.0 1485.8L1287.1 1481.9L1287.1 1499.4L1275.0 1503.3ZM1287.1 1481.9L1299.2 1478.0L1299.2 1495.5L1287.1 1499.4ZM1299.2 1478.0L1311.2 1474.1L1311.2 1491.6L1299.2 1495.5ZM1311.2 1474.1L1323.3 1470.2L1323.3 1487.7L1311.2 1491.6ZM1323.3 1470.2L1335.4 1466.2L1335.4 1483.7L1323.3 1487.7ZM1335.4 1466.2L1347.4 1462.3L1347.4 1479.8L1335.4 1483.7ZM1347.4 1462.3L1359.5 1458.4L1359.5 1475.9L1347.4 1479.8ZM1359.5 1458.4L1371.6 1454.5L1371.6 1472.0L1359.5 1475.9ZM1371.6 1454.5L1383.7 1450.5L1383.7 1468.0L1371.6 1472.0ZM1383.7 1450.5L1395.7 1446.5L1395.7 1464.0L1383.7 1468.0ZM1395.7 1446.5L1407.8 1442.1L1407.8 1459.6L1395.7 1464.0ZM1407.8 1442.1L1419.9 1437.7L1419.9 1455.2L1407.8 1459.6ZM1419.9 1437.7L1431.9 1433.3L1431.9 1450.8L1419.9 1455.2ZM1431.9 1433.3L1444.0 1428.9L1444.0 1446.4L1431.9 1450.8ZM1444.0 1428.9L1456.1 1424.5L1456.1 1442.0L1444.0 1446.4ZM1456.1 1424.5L1468.1 1420.1L1468.1 1437.6L1456.1 1442.0ZM1468.1 1420.1L1480.2 1415.7L1480.2 1433.2L1468.1 1437.6ZM1480.2 1415.7L1492.3 1411.3L1492.3 1428.8L1480.2 1433.2ZM1492.3 1411.3L1504.4 1406.7L1504.4 1424.2L1492.3 1428.8ZM1504.4 1406.7L1516.4 1401.6L1516.4 1419.1L1504.4 1424.2ZM1516.4 1401.6L1528.5 1396.6L1528.5 1414.1L1516.4 1419.1ZM1528.5 1396.6L1540.6 1391.5L1540.6 1409.0L1528.5 1414.1ZM1540.6 1391.5L1552.6 1386.5L1552.6 1404.0L1540.6 1409.0ZM1552.6 1386.5L1564.7 1384.2L1564.7 1401.7L1552.6 1404.0ZM1564.7 1384.2L1576.8 1382.6L1576.8 1400.1L1564.7 1401.7ZM1576.8 1382.6L1588.8 1381.0L1588.8 1398.5L1576.8 1400.1ZM1588.8 1381.0L1600.9 1379.2L1600.9 1396.7L1588.8 1398.5ZM1600.9 1379.2L1613.0 1374.6L1613.0 1392.1L1600.9 1396.7ZM1613.0 1374.6L1625.0 1370.1L1625.0 1387.6L1613.0 1392.1ZM1625.0 1370.1L1637.1 1364.9L1637.1 1382.4L1625.0 1387.6ZM1637.1 1364.9L1649.2 1358.9L1649.2 1376.4L1637.1 1382.4ZM1649.2 1358.9L1661.3 1352.9L1661.3 1370.4L1649.2 1376.4ZM1661.3 1352.9L1673.3 1346.8L1673.3 1364.3L1661.3 1370.4ZM1673.3 1346.8L1685.4 1340.8L1685.4 1358.3L1673.3 1364.3ZM1685.4 1340.8L1697.5 1334.8L1697.5 1352.3L1685.4 1358.3ZM1697.5 1334.8L1709.5 1328.7L1709.5 1346.2L1697.5 1352.3ZM1709.5 1328.7L1721.6 1320.3L1721.6 1337.8L1709.5 1346.2ZM1721.6 1320.3L1733.7 1310.4L1733.7 1327.9L1721.6 1337.8ZM1733.7 1310.4L1745.8 1300.5L1745.8 1318.0L1733.7 1327.9ZM1745.8 1300.5L1757.8 1290.6L1757.8 1308.1L1745.8 1318.0ZM1757.8 1290.6L1769.9 1280.8L1769.9 1298.3L1757.8 1308.1ZM1769.9 1280.8L1782.0 1270.9L1782.0 1288.4L1769.9 1298.3ZM1782.0 1270.9L1794.0 1259.6L1794.0 1277.1L1782.0 1288.4ZM1806.1 1244.2L1818.2 1231.3L1818.2 1248.8L1806.1 1261.7ZM1818.2 1231.3L1830.2 1219.2L1830.2 1236.7L1818.2 1248.8ZM1830.2 1219.2L1842.3 1207.1L1842.3 1224.6L1830.2 1236.7ZM1842.3 1207.1L1854.4 1194.9L1854.4 1212.4L1842.3 1224.6ZM1854.4 1194.9L1866.5 1182.8L1866.5 1200.3L1854.4 1212.4ZM1866.5 1182.8L1878.5 1170.7L1878.5 1188.2L1866.5 1200.3ZM1878.5 1170.7L1890.6 1166.8L1890.6 1184.3L1878.5 1188.2ZM1890.6 1166.8L1902.7 1165.7L1902.7 1183.2L1890.6 1184.3ZM1902.7 1165.7L1914.7 1164.7L1914.7 1182.2L1902.7 1183.2ZM1914.7 1164.7L1926.8 1163.7L1926.8 1181.2L1914.7 1182.2Z" fill="#f00" shape-rendering="crispEdges" clip-path="url(#clA)"/>
<clipPath id="clB"><rect x="236.7" y="2025.4" width="2100" height="1658.8"/></clipPath>
<path d="M223.4 3692.0L237.0 3668.0L250.6 3692.0ZM235.5 3690.4L249.1 3666.4L262.7 3690.4ZM247.5 3688.7L261.1 3664.7L274.7 3688.7ZM259.6 3687.1L273.2 3663.1L286.8 3687.1ZM271.7 3685.5L285.3 3661.5L298.9 3685.5ZM283.8 3683.9L297.4 3659.9L311.0 3683.9ZM295.8 3682.2L309.4 3658.2L323.0 3682.2ZM307.9 3680.6L321.5 3656.6L335.1 3680.6ZM320.0 3679.0L333.6 3655.0L347.2 3679.0ZM332.0 3677.3L345.6 3653.3L359.2 3677.3ZM344.1 3675.7L357.7 3651.7L371.3 3675.7ZM356.2 3674.1L369.8 3650.1L383.4 3674.1ZM368.2 3672.5L381.8 3648.5L395.4 3672.5ZM380.3 3670.8L393.9 3646.8L407.5 3670.8ZM392.4 3669.2L406.0 3645.2L419.6 3669.2ZM404.4 3667.5L418.1 3643.5L431.7 3667.5ZM416.5 3665.9L430.1 3641.9L443.7 3665.9ZM428.6 3664.2L442.2 3640.2L455.8 3664.2ZM440.7 3662.5L454.3 3638.5L467.9 3662.5ZM452.7 3660.9L466.3 3636.9L479.9 3660.9ZM464.8 3659.2L478.4 3635.2L492.0 3659.2ZM476.9 3648.5L490.5 3624.5L504.1 3648.5ZM488.9 3646.3L502.5 3622.3L516.1 3646.3ZM501.0 3645.6L514.6 3621.6L528.2 3645.6ZM513.1 3644.8L526.7 3620.8L540.3 3644.8ZM525.1 3644.0L538.8 3620.0L552.4 3644.0ZM537.2 3643.3L550.8 3619.3L564.4 3643.3ZM549.3 3642.5L562.9 3618.5L576.5 3642.5ZM561.4 3641.8L575.0 3617.8L588.6 3641.8ZM573.4 3641.0L587.0 3617.0L600.6 3641.0ZM585.5 3640.3L599.1 3616.3L612.7 3640.3ZM597.6 3638.7L611.2 3614.7L624.8 3638.7ZM609.6 3636.4L623.2 3612.4L636.8 3636.4ZM621.7 3634.1L635.3 3610.1L648.9 3634.1ZM633.8 3631.9L647.4 3607.9L661.0 3631.9ZM645.9 3629.6L659.5 3605.6L673.1 3629.6ZM657.9 3627.3L671.5 3603.3L685.1 3627.3ZM670.0 3625.1L683.6 3601.1L697.2 3625.1ZM682.1 3622.8L695.7 3598.8L709.3 3622.8ZM694.1 3620.6L707.7 3596.6L721.3 3620.6ZM706.2 3618.4L719.8 3594.4L733.4 3618.4ZM718.3 3616.3L731.9 3592.3L745.5 3616.3ZM730.3 3614.1L743.9 3590.1L757.5 3614.1ZM742.4 3611.9L756.0 3587.9L769.6 3611.9ZM754.5 3609.8L768.1 3585.8L781.7 3609.8ZM766.5 3607.6L780.1 3583.6L793.8 3607.6ZM778.6 3605.4L792.2 3581.4L805.8 3605.4ZM790.7 3603.3L804.3 3579.3L817.9 3603.3ZM802.8 3601.1L816.4 3577.1L830.0 3601.1ZM814.8 3598.9L828.4 3574.9L842.0 3598.9ZM826.9 3596.8L840.5 3572.8L854.1 3596.8ZM839.0 3594.6L852.6 3570.6L866.2 3594.6ZM851.0 3592.4L864.6 3568.4L878.2 3592.4ZM863.1 3590.3L876.7 3566.3L890.3 3590.3ZM875.2 3588.1L888.8 3564.1L902.4 3588.1ZM887.2 3585.9L900.9 3561.9L914.5 3585.9ZM899.3 3583.8L912.9 3559.8L926.5 3583.8ZM911.4 3581.7L925.0 3557.7L938.6 3581.7ZM923.5 3579.6L937.1 3555.6L950.7 3579.6ZM935.5 3577.5L949.1 3553.5L962.7 3577.5ZM947.6 3575.4L961.2 3551.4L974.8 3575.4ZM959.7 3573.3L973.3 3549.3L986.9 3573.3ZM971.7 3571.2L985.3 3547.2L998.9 3571.2ZM983.8 3569.1L997.4 3545.1L1011.0 3569.1ZM995.9 3567.0L1009.5 3543.0L1023.1 3567.0ZM1008.0 3564.9L1021.6 3540.9L1035.2 3564.9ZM1020.0 3561.6L1033.6 3537.6L1047.2 3561.6ZM1032.1 3558.4L1045.7 3534.4L1059.3 3558.4ZM1044.2 3555.2L1057.8 3531.2L1071.4 3555.2ZM1056.2 3552.0L1069.8 3528.0L1083.4 3552.0ZM1068.3 3548.8L1081.9 3524.8L1095.5 3548.8ZM1080.4 3545.6L1094.0 3521.6L1107.6 3545.6ZM1092.4 3542.4L1106.0 3518.4L1119.6 3542.4ZM1104.5 3539.2L1118.1 3515.2L1131.7 3539.2ZM1116.6 3536.0L1130.2 3512.0L1143.8 3536.0ZM1128.7 3532.8L1142.2 3508.8L1155.8 3532.8ZM1140.7 3529.6L1154.3 3505.6L1167.9 3529.6ZM1152.8 3526.4L1166.4 3502.4L1180.0 3526.4ZM1164.9 3523.2L1178.5 3499.2L1192.1 3523.2ZM1176.9 3521.2L1190.5 3497.2L1204.1 3521.2ZM1189.0 3519.5L1202.6 3495.5L1216.2 3519.5ZM1201.1 3517.8L1214.7 3493.8L1228.3 3517.8ZM1213.1 3516.2L1226.7 3492.2L1240.3 3516.2ZM1225.2 3514.8L1238.8 3490.8L1252.4 3514.8ZM1237.3 3513.4L1250.9 3489.4L1264.5 3513.4ZM1249.4 3511.9L1263.0 3487.9L1276.5 3511.9ZM1261.4 3510.5L1275.0 3486.5L1288.6 3510.5ZM1273.5 3506.9L1287.1 3482.9L1300.7 3506.9ZM1285.6 3503.4L1299.2 3479.4L1312.8 3503.4ZM1297.6 3499.8L1311.2 3475.8L1324.8 3499.8ZM1309.7 3496.2L1323.3 3472.2L1336.9 3496.2ZM1321.8 3492.7L1335.4 3468.7L1349.0 3492.7ZM1333.8 3489.1L1347.4 3465.1L1361.0 3489.1ZM1345.9 3485.5L1359.5 3461.5L1373.1 3485.5ZM1358.0 3482.0L1371.6 3458.0L1385.2 3482.0ZM1370.1 3478.4L1383.7 3454.4L1397.2 3478.4ZM1382.1 3474.1L1395.7 3450.1L1409.3 3474.1ZM1394.2 3469.8L1407.8 3445.8L1421.4 3469.8ZM1406.3 3465.5L1419.9 3441.5L1433.5 3465.5ZM1418.3 3461.1L1431.9 3437.1L1445.5 3461.1ZM1430.4 3456.8L1444.0 3432.8L1457.6 3456.8ZM1442.5 3452.5L1456.1 3428.5L1469.7 3452.5ZM1454.5 3448.1L1468.1 3424.1L1481.7 3448.1ZM1466.6 3443.8L1480.2 3419.8L1493.8 3443.8ZM1478.7 3439.4L1492.3 3415.4L1505.9 3439.4ZM1490.8 3435.1L1504.4 3411.1L1518.0 3435.1ZM1502.8 3430.8L1516.4 3406.8L1530.0 3430.8ZM1514.9 3426.4L1528.5 3402.4L1542.1 3426.4ZM1527.0 3421.7L1540.6 3397.7L1554.2 3421.7ZM1539.0 3417.0L1552.6 3393.0L1566.2 3417.0ZM1551.1 3417.0L1564.7 3393.0L1578.3 3417.0ZM1563.2 3417.0L1576.8 3393.0L1590.4 3417.0ZM1575.2 3417.0L1588.8 3393.0L1602.4 3417.0ZM1587.3 3413.0L1600.9 3389.0L1614.5 3413.0ZM1599.4 3406.9L1613.0 3382.9L1626.6 3406.9ZM1611.5 3400.8L1625.0 3376.8L1638.6 3400.8ZM1623.5 3394.8L1637.1 3370.8L1650.7 3394.8ZM1635.6 3388.7L1649.2 3364.7L1662.8 3388.7ZM1647.7 3382.6L1661.3 3358.6L1674.9 3382.6ZM1659.7 3376.5L1673.3 3352.5L1686.9 3376.5ZM1671.8 3370.4L1685.4 3346.4L1699.0 3370.4ZM1683.9 3364.3L1697.5 3340.3L1711.1 3364.3ZM1695.9 3358.2L1709.5 3334.2L1723.1 3358.2ZM1708.0 3350.9L1721.6 3326.9L1735.2 3350.9ZM1720.1 3342.7L1733.7 3318.7L1747.3 3342.7ZM1732.2 3334.6L1745.8 3310.6L1759.3 3334.6ZM1744.2 3326.4L1757.8 3302.4L1771.4 3326.4ZM1756.3 3318.3L1769.9 3294.3L1783.5 3318.3ZM1768.4 3310.1L1782.0 3286.1L1795.6 3310.1ZM1780.4 3300.6L1794.0 3276.6L1807.6 3300.6ZM1792.5 3287.2L1806.1 3263.2L1819.7 3287.2ZM1804.6 3276.8L1818.2 3252.8L1831.8 3276.8ZM1816.6 3267.3L1830.2 3243.3L1843.8 3267.3ZM1828.7 3257.9L1842.3 3233.9L1855.9 3257.9ZM1840.8 3248.4L1854.4 3224.4L1868.0 3248.4ZM1852.9 3239.0L1866.5 3215.0L1880.0 3239.0ZM1864.9 3229.5L1878.5 3205.5L1892.1 3229.5ZM1877.0 3226.3L1890.6 3202.3L1904.2 3226.3ZM1889.1 3225.2L1902.7 3201.2L1916.3 3225.2ZM1901.1 3224.2L1914.7 3200.2L1928.3 3224.2ZM1913.2 3223.2L1926.8 3199.2L1940.4 3223.2ZM1927.4 3209.5L1941.0 3185.5L1954.6 3209.5ZM1939.4 3196.0L1953.0 3172.0L1966.6 3196.0ZM1951.4 3177.8L1965.0 3153.8L1978.6 3177.8ZM1963.4 3159.6L1977.0 3135.6L1990.6 3159.6ZM1974.8 3134.6L1988.4 3110.6L2002.0 3134.6ZM1987.0 3109.6L2000.6 3085.6L2014.2 3109.6ZM1998.4 3076.5L2012.0 3052.5L2025.6 3076.5ZM2009.4 3039.2L2023.0 3015.2L2036.6 3039.2ZM2022.4 2991.6L2036.0 2967.6L2049.6 2991.6ZM2034.3 2900.7L2047.9 2876.7L2061.5 2900.7ZM2046.1 2645.0L2059.7 2621.0L2073.3 2645.0ZM2059.5 2557.4L2073.1 2533.4L2086.7 2557.4ZM2059.7 2344.8L2073.3 2320.8L2086.9 2344.8ZM237.0 3674.5L249.1 3672.9L249.1 3690.4L237.0 3692.0ZM249.1 3672.9L261.1 3671.2L261.1 3688.7L249.1 3690.4ZM261.1 3671.2L273.2 3669.6L273.2 3687.1L261.1 3688.7ZM273.2 3669.6L285.3 3668.0L285.3 3685.5L273.2 3687.1ZM285.3 3668.0L297.4 3666.4L297.4 3683.9L285.3 3685.5ZM297.4 3666.4L309.4 3664.7L309.4 3682.2L297.4 3683.9ZM309.4 3664.7L321.5 3663.1L321.5 3680.6L309.4 3682.2ZM321.5 3663.1L333.6 3661.5L333.6 3679.0L321.5 3680.6ZM333.6 3661.5L345.6 3659.8L345.6 3677.3L333.6 3679.0ZM345.6 3659.8L357.7 3658.2L357.7 3675.7L345.6 3677.3ZM357.7 3658.2L369.8 3656.6L369.8 3674.1L357.7 3675.7ZM369.8 3656.6L381.8 3655.0L381.8 3672.5L369.8 3674.1ZM381.8 3655.0L393.9 3653.3L393.9 3670.8L381.8 3672.5ZM393.9 3653.3L406.0 3651.7L406.0 3669.2L393.9 3670.8ZM406.0 3651.7L418.1 3650.0L418.1 3667.5L406.0 3669.2ZM418.1 3650.0L430.1 3648.4L430.1 3665.9L418.1 3667.5ZM430.1 3648.4L442.2 3646.7L442.2 3664.2L430.1 3665.9ZM442.2 3646.7L454.3 3645.0L454.3 3662.5L442.2 3664.2ZM454.3 3645.0L466.3 3643.4L466.3 3660.9L454.3 3662.5ZM466.3 3643.4L478.4 3641.7L478.4 3659.2L466.3 3660.9ZM478.4 3641.7L490.5 3631.0L490.5 3648.5L478.4 3659.2ZM490.5 3631.0L502.5 3628.8L502.5 3646.3L490.5 3648.5ZM502.5 3628.8L514.6 3628.1L514.6 3645.6L502.5 3646.3ZM514.6 3628.1L526.7 3627.3L526.7 3644.8L514.6 3645.6ZM526.7 3627.3L538.8 3626.5L538.8 3644.0L526.7 3644.8ZM538.8 3626.5L550.8 3625.8L550.8 3643.3L538.8 3644.0ZM550.8 3625.8L562.9 3625.0L562.9 3642.5L550.8 3643.3ZM562.9 3625.0L575.0 3624.3L575.0 3641.8L562.9 3642.5ZM575.0 3624.3L587.0 3623.5L587.0 3641.0L575.0 3641.8ZM587.0 3623.5L599.1 3622.8L599.1 3640.3L587.0 3641.0ZM599.1 3622.8L611.2 3621.2L611.2 3638.7L599.1 3640.3ZM611.2 3621.2L623.2 3618.9L623.2 3636.4L611.2 3638.7ZM623.2 3618.9L635.3 3616.6L635.3 3634.1L623.2 3636.4ZM635.3 3616.6L647.4 3614.4L647.4 3631.9L635.3 3634.1ZM647.4 3614.4L659.5 3612.1L659.5 3629.6L647.4 3631.9ZM659.5 3612.1L671.5 3609.8L671.5 3627.3L659.5 3629.6ZM671.5 3609.8L683.6 3607.6L683.6 3625.1L671.5 3627.3ZM683.6 3607.6L695.7 3605.3L695.7 3622.8L683.6 3625.1ZM695.7 3605.3L707.7 3603.1L707.7 3620.6L695.7 3622.8ZM707.7 3603.1L719.8 3600.9L719.8 3618.4L707.7 3620.6ZM719.8 3600.9L731.9 3598.8L731.9 3616.3L719.8 3618.4ZM731.9 3598.8L743.9 3596.6L743.9 3614.1L731.9 3616.3ZM743.9 3596.6L756.0 3594.4L756.0 3611.9L743.9 3614.1ZM756.0 3594.4L768.1 3592.3L768.1 3609.8L756.0 3611.9ZM768.1 3592.3L780.1 3590.1L780.1 3607.6L768.1 3609.8ZM780.1 3590.1L792.2 3587.9L792.2 3605.4L780.1 3607.6ZM792.2 3587.9L804.3 3585.8L804.3 3603.3L792.2 3605.4ZM804.3 3585.8L816.4 3583.6L816.4 3601.1L804.3 3603.3ZM816.4 3583.6L828.4 3581.4L828.4 3598.9L816.4 3601.1ZM828.4 3581.4L840.5 3579.3L840.5 3596.8L828.4 3598.9ZM840.5 3579.3L852.6 3577.1L852.6 3594.6L840.5 3596.8ZM852.6 3577.1L864.6 3574.9L864.6 3592.4L852.6 3594.6ZM864.6 3574.9L876.7 3572.8L876.7 3590.3L864.6 3592.4ZM876.7 3572.8L888.8 3570.6L888.8 3588.1L876.7 3590.3ZM888.8 3570.6L900.9 3568.4L900.9 3585.9L888.8 3588.1ZM900.9 3568.4L912.9 3566.3L912.9 3583.8L900.9 3585.9ZM912.9 3566.3L925.0 3564.2L925.0 3581.7L912.9 3583.8ZM925.0 3564.2L937.1 3562.1L937.1 3579.6L925.0 3581.7ZM937.1 3562.1L949.1 3560.0L949.1 3577.5L937.1 3579.6ZM949.1 3560.0L961.2 3557.9L961.2 3575.4L949.1 3577.5ZM961.2 3557.9L973.3 3555.8L973.3 3573.3L961.2 3575.4ZM973.3 3555.8L985.3 3553.7L985.3 3571.2L973.3 3573.3ZM985.3 3553.7L997.4 3551.6L997.4 3569.1L985.3 3571.2ZM997.4 3551.6L1009.5 3549.5L1009.5 3567.0L997.4 3569.1ZM1009.5 3549.5L1021.6 3547.4L1021.6 3564.9L1009.5 3567.0ZM1021.6 3547.4L1033.6 3544.1L1033.6 3561.6L1021.6 3564.9ZM1033.6 3544.1L1045.7 3540.9L1045.7 3558.4L1033.6 3561.6ZM1045.7 3540.9L1057.8 3537.7L1057.8 3555.2L1045.7 3558.4ZM1057.8 3537.7L1069.8 3534.5L1069.8 3552.0L1057.8 3555.2ZM1069.8 3534.5L1081.9 3531.3L1081.9 3548.8L1069.8 3552.0ZM1081.9 3531.3L1094.0 3528.1L1094.0 3545.6L1081.9 3548.8ZM1094.0 3528.1L1106.0 3524.9L1106.0 3542.4L1094.0 3545.6ZM1106.0 3524.9L1118.1 3521.7L1118.1 3539.2L1106.0 3542.4ZM1118.1 3521.7L1130.2 3518.5L1130.2 3536.0L1118.1 3539.2ZM1130.2 3518.5L1142.2 3515.3L1142.2 3532.8L1130.2 3536.0ZM1142.2 3515.3L1154.3 3512.1L1154.3 3529.6L1142.2 3532.8ZM1154.3 3512.1L1166.4 3508.9L1166.4 3526.4L1154.3 3529.6ZM1166.4 3508.9L1178.5 3505.7L1178.5 3523.2L1166.4 3526.4ZM1178.5 3505.7L1190.5 3503.7L1190.5 3521.2L1178.5 3523.2ZM1190.5 3503.7L1202.6 3502.0L1202.6 3519.5L1190.5 3521.2ZM1202.6 3502.0L1214.7 3500.3L1214.7 3517.8L1202.6 3519.5ZM1214.7 3500.3L1226.7 3498.7L1226.7 3516.2L1214.7 3517.8ZM1226.7 3498.7L1238.8 3497.3L1238.8 3514.8L1226.7 3516.2ZM1238.8 3497.3L1250.9 3495.9L1250.9 3513.4L1238.8 3514.8ZM1250.9 3495.9L1263.0 3494.4L1263.0 3511.9L1250.9 3513.4ZM1263.0 3494.4L1275.0 3493.0L1275.0 3510.5L1263.0 3511.9ZM1275.0 3493.0L1287.1 3489.4L1287.1 3506.9L1275.0 3510.5ZM1287.1 3489.4L1299.2 3485.9L1299.2 3503.4L1287.1 3506.9ZM1299.2 3485.9L1311.2 3482.3L1311.2 3499.8L1299.2 3503.4ZM1311.2 3482.3L1323.3 3478.7L1323.3 3496.2L1311.2 3499.8ZM1323.3 3478.7L1335.4 3475.2L1335.4 3492.7L1323.3 3496.2ZM1335.4 3475.2L1347.4 3471.6L1347.4 3489.1L1335.4 3492.7ZM1347.4 3471.6L1359.5 3468.0L1359.5 3485.5L1347.4 3489.1ZM1359.5 3468.0L1371.6 3464.5L1371.6 3482.0L1359.5 3485.5ZM1371.6 3464.5L1383.7 3460.9L1383.7 3478.4L1371.6 3482.0ZM1383.7 3460.9L1395.7 3456.6L1395.7 3474.1L1383.7 3478.4ZM1395.7 3456.6L1407.8 3452.3L1407.8 3469.8L1395.7 3474.1ZM1407.8 3452.3L1419.9 3448.0L1419.9 3465.5L1407.8 3469.8ZM1419.9 3448.0L1431.9 3443.6L1431.9 3461.1L1419.9 3465.5ZM1431.9 3443.6L1444.0 3439.3L1444.0 3456.8L1431.9 3461.1ZM1444.0 3439.3L1456.1 3435.0L1456.1 3452.5L1444.0 3456.8ZM1456.1 3435.0L1468.1 3430.6L1468.1 3448.1L1456.1 3452.5ZM1468.1 3430.6L1480.2 3426.3L1480.2 3443.8L1468.1 3448.1ZM1480.2 3426.3L1492.3 3421.9L1492.3 3439.4L1480.2 3443.8ZM1492.3 3421.9L1504.4 3417.6L1504.4 3435.1L1492.3 3439.4ZM1504.4 3417.6L1516.4 3413.3L1516.4 3430.8L1504.4 3435.1ZM1516.4 3413.3L1528.5 3408.9L1528.5 3426.4L1516.4 3430.8ZM1528.5 3408.9L1540.6 3404.2L1540.6 3421.7L1528.5 3426.4ZM1540.6 3404.2L1552.6 3399.5L1552.6 3417.0L1540.6 3421.7ZM1552.6 3399.5L1564.7 3399.5L1564.7 3417.0L1552.6 3417.0ZM1564.7 3399.5L1576.8 3399.5L1576.8 3417.0L1564.7 3417.0ZM1576.8 3399.5L1588.8 3399.5L1588.8 3417.0L1576.8 3417.0ZM1588.8 3399.5L1600.9 3395.5L1600.9 3413.0L1588.8 3417.0ZM1600.9 3395.5L1613.0 3389.4L1613.0 3406.9L1600.9 3413.0ZM1613.0 3389.4L1625.0 3383.3L1625.0 3400.8L1613.0 3406.9ZM1625.0 3383.3L1637.1 3377.3L1637.1 3394.8L1625.0 3400.8ZM1637.1 3377.3L1649.2 3371.2L1649.2 3388.7L1637.1 3394.8ZM1649.2 3371.2L1661.3 3365.1L1661.3 3382.6L1649.2 3388.7ZM1661.3 3365.1L1673.3 3359.0L1673.3 3376.5L1661.3 3382.6ZM1673.3 3359.0L1685.4 3352.9L1685.4 3370.4L1673.3 3376.5ZM1685.4 3352.9L1697.5 3346.8L1697.5 3364.3L1685.4 3370.4ZM1697.5 3346.8L1709.5 3340.7L1709.5 3358.2L1697.5 3364.3ZM1709.5 3340.7L1721.6 3333.4L1721.6 3350.9L1709.5 3358.2ZM1721.6 3333.4L1733.7 3325.2L1733.7 3342.7L1721.6 3350.9ZM1733.7 3325.2L1745.8 3317.1L1745.8 3334.6L1733.7 3342.7ZM1745.8 3317.1L1757.8 3308.9L1757.8 3326.4L1745.8 3334.6ZM1757.8 3308.9L1769.9 3300.8L1769.9 3318.3L1757.8 3326.4ZM1769.9 3300.8L1782.0 3292.6L1782.0 3310.1L1769.9 3318.3ZM1782.0 3292.6L1794.0 3283.1L1794.0 3300.6L1782.0 3310.1ZM1806.1 3269.7L1818.2 3259.3L1818.2 3276.8L1806.1 3287.2ZM1818.2 3259.3L1830.2 3249.8L1830.2 3267.3L1818.2 3276.8ZM1830.2 3249.8L1842.3 3240.4L1842.3 3257.9L1830.2 3267.3ZM1842.3 3240.4L1854.4 3230.9L1854.4 3248.4L1842.3 3257.9ZM1854.4 3230.9L1866.5 3221.5L1866.5 3239.0L1854.4 3248.4ZM1866.5 3221.5L1878.5 3212.0L1878.5 3229.5L1866.5 3239.0ZM1878.5 3212.0L1890.6 3208.8L1890.6 3226.3L1878.5 3229.5ZM1890.6 3208.8L1902.7 3207.7L1902.7 3225.2L1890.6 3226.3ZM1902.7 3207.7L1914.7 3206.7L1914.7 3224.2L1902.7 3225.2ZM1914.7 3206.7L1926.8 3205.7L1926.8 3223.2L1914.7 3224.2Z" fill="#f00" shape-rendering="crispEdges" clip-path="url(#clB)"/>
<path d="M1881.7 553.4L2022.5 608.4" stroke="#000" stroke-width="9" fill="none"/>
<path d="M2070.0 627.0L2011.6 619.8L2022.5 608.4L2022.2 592.7Z" fill="#000"/>
<path d="M1137.7 1372.3L1164.4 1463.0" stroke="#000" stroke-width="7.4" fill="none"/>
<path d="M1178.2 1510.0L1148.8 1461.3L1164.4 1463.0L1176.6 1453.1Z" fill="#000"/>
<path d="M1889.8 2584.7L1972.8 2604.9" stroke="#000" stroke-width="6.4" fill="none"/>
<path d="M2022.4 2617.0L1963.6 2617.6L1972.8 2604.9L1970.5 2589.4Z" fill="#000"/>
<path d="M1141.8 3342.3L1168.9 3446.0" stroke="#000" stroke-width="7.4" fill="none"/>
<path d="M1181.3 3493.4L1153.4 3443.9L1168.9 3446.0L1181.4 3436.5Z" fill="#000"/>
<text x="21.5" y="2011" font-family='"Liberation Serif", "DejaVu Serif", serif' font-size="85px" letter-spacing="-2.5">(<tspan font-weight="bold">a</tspan>)</text>
<text x="21.5" y="4015" font-family='"Liberation Serif", "DejaVu Serif", serif' font-size="85px" letter-spacing="-1">(<tspan font-weight="bold">b</tspan>)</text>
</svg></body></html>
